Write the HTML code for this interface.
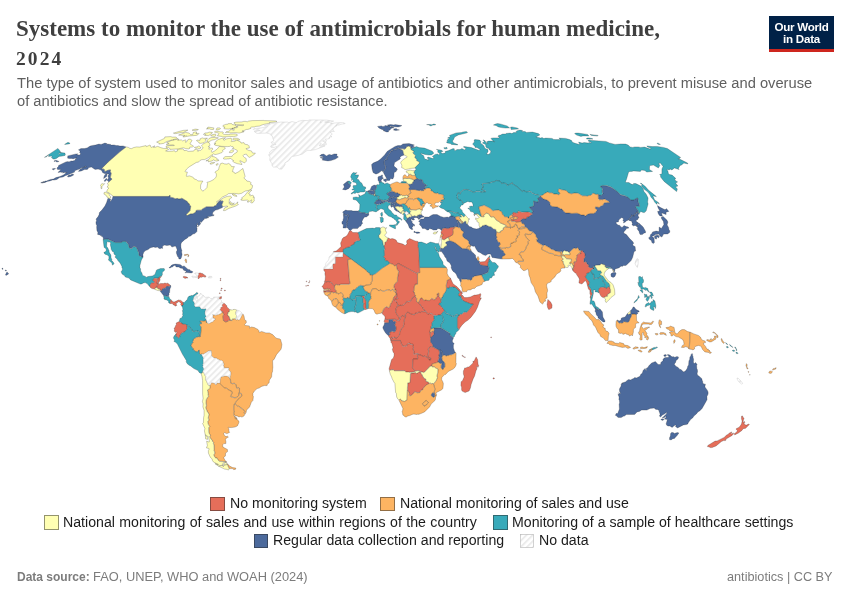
<!DOCTYPE html>
<html lang="en"><head><meta charset="utf-8"><title>Systems to monitor the use of antimicrobials for human medicine, 2024</title>
<style>
html,body{margin:0;padding:0;background:#fff;}
body{width:850px;height:600px;position:relative;overflow:hidden;font-family:"Liberation Sans",sans-serif;}
.t{position:absolute;white-space:nowrap;margin:0;will-change:transform;}
.title{font-family:"Liberation Serif",serif;font-weight:bold;color:#3f3f3f;}
.sub{color:#5f5f5f;}
.leg{color:#1c1c1c;font-size:14px;line-height:18px;}
.sw{position:absolute;width:12.6px;height:12.6px;border:0.6px solid rgba(40,40,40,.5);}
.foot{color:#7c7c7c;}
#logo{position:absolute;left:769px;top:16px;width:65px;height:33px;background:#002147;border-bottom:3px solid #ce261e;color:#fff;font-weight:bold;text-align:center;}
#logo span{position:absolute;left:0;width:65px;white-space:nowrap;will-change:transform;}
svg{position:absolute;left:0;top:0;}
</style></head><body>

<div class="t title" style="left:16.30px;top:15.74px;font-size:23.00px;line-height:26.00px;">Systems to monitor the use of antimicrobials for human medicine,</div>
<div class="t title" style="left:16.40px;top:45.72px;font-size:19.50px;line-height:26.00px;letter-spacing:2.1px;">2024</div>
<div class="t sub" style="left:16.60px;top:73.91px;font-size:14.70px;line-height:18.00px;">The type of system used to monitor sales and usage of antibiotics and other antimicrobials, to prevent misuse and overuse</div>
<div class="t sub" style="left:16.60px;top:92.01px;font-size:14.70px;line-height:18.00px;">of antibiotics and slow the spread of antibiotic resistance.</div>
<div id="logo"><span style="top:5.2px;font-size:11.6px;line-height:12px;letter-spacing:-0.25px">Our World</span><span style="top:17.3px;font-size:11.6px;line-height:12px;letter-spacing:-0.25px">in Data</span></div>
<svg width="850" height="600" viewBox="0 0 850 600"><defs><pattern id="hatch" width="4.4" height="4.4" patternUnits="userSpaceOnUse" patternTransform="rotate(45)"><rect width="4.4" height="4.4" fill="#fff"/><rect width="1.9" height="4.4" fill="#ebebeb"/></pattern></defs>
<g stroke="#1a1a1a" stroke-opacity=".55" stroke-width="0.42" stroke-linejoin="round">
<path fill="#e56e5a" d="M407.6,312.1L405.6,314.1L405.6,316.6L404.6,318.9L404.4,321.1L403.9,322.4L404.1,324.4L403.6,325.1L403.6,326.6L401.6,328.6L399.9,332.1L399.6,335.1L397.6,336.9L396.4,338.6L395.4,338.1L395.1,337.4L394.1,337.4L393.1,338.4L392.9,338.1L392.1,338.4L391.6,339.1L391.6,340.1L390.6,340.6L391.1,341.1L393.1,340.4L400.4,340.4L401.1,342.9L402.9,346.1L404.4,346.1L405.1,345.6L406.4,346.1L407.1,344.1L409.1,343.1L410.1,343.1L410.4,343.4L410.1,344.1L412.9,344.1L413.1,346.4L413.6,347.1L413.1,349.4L414.1,351.4L413.9,354.1L416.1,353.6L418.1,353.6L418.9,354.1L418.9,354.6L421.1,354.9L421.9,355.9L423.9,356.4L425.1,355.6L426.1,357.1L427.4,357.4L428.6,358.6L429.1,359.9L430.6,359.9L430.6,357.9L430.1,358.1L427.9,356.6L427.6,355.9L428.6,351.1L428.1,349.1L428.9,347.6L430.6,346.9L432.1,346.6L433.4,346.9L432.1,343.9L430.9,342.4L430.4,341.1L430.6,338.4L430.1,333.6L429.6,332.9L430.4,329.4L430.9,328.9L430.9,326.9L431.6,325.9L431.6,323.4L432.6,321.6L434.4,319.6L433.6,319.1L433.9,315.9L431.4,313.4L430.4,313.9L429.6,313.6L428.4,314.1L427.4,313.9L425.9,311.6L425.4,311.9L421.6,311.6L420.4,312.6L419.1,312.1L416.9,313.4L415.4,313.1L414.4,314.9L411.1,314.1Z"/>
<path fill="#e56e5a" d="M391.4,341.1L390.6,341.9L391.9,343.4L393.1,347.9L392.4,348.9L392.4,349.6L393.1,352.1L394.1,353.4L394.1,355.6L393.4,357.9L391.6,359.6L389.1,368.6L389.4,370.6L391.6,369.6L393.4,369.6L394.6,370.9L395.1,370.6L404.4,370.6L405.9,371.9L408.6,371.9L408.9,372.1L411.9,372.1L414.9,371.4L415.1,371.1L412.4,367.6L412.9,359.1L413.1,358.9L417.6,358.9L417.4,358.1L417.9,357.1L417.4,356.4L417.6,355.4L417.4,353.9L413.9,354.4L413.6,354.1L413.9,351.4L412.9,349.4L412.9,348.4L413.4,347.4L412.9,346.4L412.9,344.4L410.1,344.4L409.9,344.1L410.1,343.4L409.1,343.4L408.1,344.1L407.4,344.1L406.9,345.9L406.4,346.4L405.4,345.9L404.4,346.4L402.9,346.4L400.9,342.9L400.4,340.6L393.1,340.6ZM391.9,337.1L390.1,338.6L390.6,340.4L391.4,340.1L391.4,339.1L392.4,338.1Z"/>
<path fill="#e56e5a" d="M439.1,350.6L437.1,348.9L435.6,348.6L433.1,346.9L429.1,347.6L428.4,349.1L428.9,351.1L427.9,356.4L430.1,357.9L430.4,357.6L430.9,357.9L430.6,360.1L429.1,360.1L428.4,358.6L427.4,357.6L426.1,357.4L425.1,355.9L423.9,356.6L421.9,356.1L421.1,355.1L418.9,354.9L418.6,354.1L417.6,353.9L417.9,354.6L417.6,356.4L418.1,357.1L417.6,358.1L417.9,358.9L417.6,359.1L413.1,359.1L412.6,367.6L415.4,371.1L417.4,370.6L419.1,370.6L420.4,371.6L422.9,371.9L423.6,372.4L424.4,372.1L428.4,368.1L429.1,366.9L430.4,366.1L431.9,365.9L431.6,365.1L431.9,363.9L438.4,362.1L437.6,361.1L439.1,358.1L438.6,356.4L439.6,353.1Z"/>
<path fill="#4c6a9c" d="M433.6,328.1L434.4,329.6L434.1,331.4L433.6,331.9L434.1,334.1L431.6,337.1L430.6,337.4L430.9,338.4L430.6,341.1L431.1,342.4L432.4,343.9L433.6,347.1L438.1,349.4L440.6,349.9L442.1,351.9L442.6,355.4L444.4,355.1L446.9,355.9L447.4,355.4L449.1,355.4L449.9,354.6L451.6,354.6L454.9,352.9L455.4,352.1L454.6,351.4L453.4,347.9L453.4,345.1L454.1,343.6L453.6,342.9L452.4,342.1L452.4,340.6L453.4,337.9L449.9,334.9L449.9,333.4L441.9,328.6L441.1,327.9Z"/>
<path fill="#fdb462" d="M455.6,352.4L453.9,353.9L451.6,354.9L449.9,354.9L449.1,355.6L447.4,355.6L446.9,356.1L444.4,355.4L442.6,355.6L441.9,357.4L442.4,360.6L442.9,360.6L444.1,362.1L444.9,363.6L444.9,367.1L443.6,368.1L442.9,369.6L441.1,367.9L441.1,365.6L441.6,364.9L441.6,363.6L441.1,363.4L440.4,363.6L438.6,362.1L431.9,364.1L432.4,366.9L434.1,366.6L435.6,367.9L438.1,369.1L437.9,372.9L437.1,375.4L437.1,376.4L437.6,377.4L436.1,380.9L433.6,383.9L435.1,389.1L434.4,391.9L434.9,395.4L436.4,395.4L436.6,394.6L436.1,393.6L436.4,392.6L441.4,389.9L442.9,388.6L443.4,383.4L442.9,383.1L443.1,382.4L441.6,379.4L441.9,377.4L444.6,374.6L445.6,374.4L448.4,371.4L453.1,369.1L454.9,367.4L455.9,365.4L456.4,363.6L455.9,362.9L456.1,353.4Z"/>
<path fill="#4c6a9c" d="M438.4,349.6L439.4,350.6L439.9,353.1L438.9,355.6L439.4,358.1L437.9,361.4L440.4,363.4L441.1,363.1L441.9,363.6L441.9,364.9L441.4,365.6L441.4,367.9L442.9,369.4L443.4,368.1L444.6,367.1L444.6,363.6L443.9,362.1L442.9,360.9L442.1,360.6L441.6,357.4L442.4,355.9L441.9,351.9L440.6,350.1Z"/>
<path fill="#ffffb3" d="M431.4,366.1L429.1,367.1L428.6,368.1L424.4,372.4L423.6,372.6L421.6,371.9L420.6,371.9L421.1,373.6L421.9,374.4L423.1,376.9L424.6,378.6L425.9,379.1L425.9,380.4L426.6,381.6L428.1,381.9L429.4,383.1L430.6,383.1L431.4,383.6L431.9,383.4L433.6,383.6L435.9,380.9L437.4,377.4L436.9,376.4L436.9,375.4L437.6,372.9L437.9,369.1L435.6,368.1L434.1,366.9L432.4,367.1L432.1,366.1Z"/>
<path fill="#e56e5a" d="M420.1,371.6L416.4,373.6L415.6,372.6L410.6,373.6L410.1,382.6L407.9,382.9L407.9,386.4L407.6,386.6L407.6,390.4L408.4,390.9L409.6,393.4L409.4,394.1L409.6,395.6L411.1,395.4L413.4,393.4L414.1,392.1L415.1,391.6L417.1,392.6L419.9,392.4L420.6,390.6L421.1,390.1L422.4,389.9L423.6,387.4L426.4,384.9L429.1,383.4L428.1,382.1L426.6,381.9L425.6,380.4L425.6,379.1L424.6,378.9L422.9,376.9L421.6,374.4L420.9,373.6Z"/>
<path fill="#ffffb3" d="M390.9,370.1L389.4,371.1L390.4,374.6L391.6,376.9L392.1,378.6L393.9,382.1L394.9,383.4L395.6,392.4L396.4,393.6L396.6,396.9L397.4,398.4L398.9,400.1L400.1,398.9L401.4,399.9L401.6,400.6L404.4,401.4L406.9,400.1L407.6,382.9L409.9,382.6L410.4,373.6L411.4,373.1L412.6,373.1L415.6,372.4L416.4,373.4L419.9,371.6L419.1,370.9L417.4,370.9L411.9,372.4L408.9,372.4L408.6,372.1L405.9,372.1L404.4,370.9L395.1,370.9L394.6,371.1L393.4,369.9Z"/>
<path fill="#fdb462" d="M433.4,383.9L432.6,383.6L431.4,383.9L430.6,383.4L429.4,383.4L426.4,385.1L423.9,387.4L422.6,389.9L421.1,390.4L419.9,392.6L417.1,392.9L415.1,391.9L414.1,392.4L413.6,393.4L411.1,395.6L409.6,395.9L409.1,395.4L409.4,393.4L408.1,390.9L407.4,390.4L407.1,400.1L404.4,401.6L401.6,400.9L401.1,399.9L400.1,399.1L399.1,400.4L402.9,408.6L402.6,410.6L402.1,411.1L402.9,415.1L403.1,414.9L403.9,415.9L405.4,416.9L406.4,416.9L407.9,415.9L409.9,415.6L412.1,414.4L413.9,414.1L417.1,414.6L417.9,414.1L419.1,414.4L419.4,413.9L420.9,413.6L424.6,411.9L429.6,406.9L431.1,404.1L434.9,400.6L435.4,399.6L435.6,397.4L436.4,395.6L434.9,395.6L434.1,397.1L432.9,397.4L431.4,395.6L431.4,394.6L432.6,392.6L434.4,393.1L434.1,391.9L434.9,389.1ZM426.4,400.4L428.4,402.4L426.9,404.6L425.6,405.1L425.1,405.9L424.1,406.1L422.4,403.9L424.6,401.4Z"/>
<path fill="#fdb462" d="M426.4,400.6L424.6,401.6L422.6,403.9L424.1,405.9L425.1,405.6L425.6,404.9L426.9,404.4L428.1,402.4Z"/>
<path fill="#4c6a9c" d="M432.6,392.9L431.6,394.6L431.6,395.6L432.9,397.1L434.1,396.9L434.6,395.9L434.6,394.1L434.4,393.4Z"/>
<path fill="#e56e5a" d="M405.4,316.4L402.1,315.6L400.9,317.1L399.4,320.9L397.4,320.4L396.1,319.6L393.1,319.4L392.9,320.6L393.4,321.6L395.1,321.4L395.9,322.1L394.9,325.1L395.9,326.6L396.1,329.4L394.9,331.9L392.9,331.9L391.9,330.9L391.4,331.9L389.9,332.1L389.4,332.6L390.1,334.4L388.4,335.6L388.4,336.1L390.1,338.4L391.9,336.9L393.1,338.1L394.1,337.1L395.1,337.1L395.4,337.9L396.4,338.4L397.4,336.9L399.4,335.1L399.6,332.1L401.4,328.6L403.4,326.6L403.4,325.1L403.9,324.4L403.6,322.4L404.1,321.1L404.4,318.9L405.1,317.6Z"/>
<path fill="#4c6a9c" d="M392.9,319.4L391.9,319.6L389.4,319.4L388.9,319.6L388.9,322.4L388.6,322.6L384.6,322.9L384.1,324.9L382.9,327.1L382.9,328.1L384.1,330.6L385.6,332.9L388.1,335.6L389.9,334.4L389.1,332.9L389.9,331.9L391.4,331.6L391.9,330.6L392.9,331.6L394.9,331.6L395.6,330.4L395.9,327.9L395.6,326.6L394.6,325.1L395.6,322.1L395.1,321.6L393.4,321.9L392.6,320.6Z"/>
<path fill="#e56e5a" d="M384.6,319.6L384.1,321.6L384.6,322.6L388.6,322.4L388.6,319.6L386.6,319.4Z"/>
<path fill="#e56e5a" d="M395.9,291.6L395.4,291.9L395.4,292.4L396.4,293.4L396.1,294.9L393.9,297.1L393.1,299.9L392.4,300.9L392.1,302.4L390.9,303.4L389.9,306.9L388.4,307.9L386.9,306.9L385.9,306.9L383.9,308.9L382.1,313.4L382.9,314.6L383.9,315.1L385.1,316.9L384.9,319.1L386.9,319.4L394.4,319.1L396.1,319.4L397.4,320.1L399.4,320.6L399.6,319.4L399.1,318.6L399.1,317.4L397.6,316.1L396.9,314.1L395.9,312.9L395.6,311.4L395.9,308.9L397.9,305.1L396.9,302.1L396.1,301.9L394.4,300.1L395.1,298.6L395.9,298.9L397.6,298.6L396.6,296.6L396.9,294.1Z"/>
<path fill="#e56e5a" d="M415.1,296.1L412.6,297.6L410.9,300.9L408.9,301.9L406.6,301.6L406.4,302.6L403.6,304.9L401.4,305.6L400.1,305.1L399.9,305.6L397.6,306.1L396.1,308.9L395.9,311.4L396.1,312.9L397.1,314.1L397.9,316.1L399.4,317.4L399.6,319.1L400.6,317.1L402.1,315.4L405.4,316.1L405.4,314.1L407.6,311.9L411.1,313.9L414.4,314.6L415.4,312.9L416.9,313.1L419.1,311.9L420.4,312.4L421.6,311.4L422.9,311.6L425.4,311.6L425.6,311.4L425.4,310.6L423.6,309.6L422.4,307.1L420.4,305.4L420.4,304.6L416.6,301.6L416.4,301.1L416.6,298.6L415.4,297.1Z"/>
<path fill="#e56e5a" d="M438.6,293.1L437.9,293.9L437.1,293.9L437.6,296.1L435.1,299.6L433.9,299.9L431.9,298.4L429.6,300.6L427.1,300.6L426.6,300.1L425.1,300.1L424.1,300.6L423.1,299.9L422.1,298.1L421.4,298.1L420.4,298.6L418.9,302.4L418.1,302.6L420.6,304.6L420.6,305.4L422.6,307.1L423.9,309.6L425.6,310.6L427.4,313.6L428.4,313.9L429.1,313.4L430.4,313.6L431.4,313.1L433.9,315.6L435.1,315.1L436.9,315.6L438.1,314.9L440.1,314.9L440.9,314.4L444.1,310.6L442.9,308.1L441.4,306.9L440.6,305.4L438.6,304.6L439.6,302.9L440.9,302.6L440.9,300.6L440.4,300.4L440.6,298.9L438.9,296.6L438.6,295.6L438.9,293.4Z"/>
<path fill="#38aaba" d="M441.4,314.4L440.1,315.1L438.1,315.1L436.9,315.9L435.4,315.4L434.1,315.9L433.9,319.1L434.4,319.1L434.6,319.6L432.9,321.6L431.9,323.4L431.9,325.9L431.1,326.9L431.1,328.6L431.9,328.9L433.1,327.9L433.4,328.1L433.6,327.9L441.1,327.6L440.9,324.9L442.6,322.6L443.6,320.4L442.4,315.9Z"/>
<path fill="#fdb462" d="M433.1,328.1L431.9,329.1L431.1,328.9L430.6,329.4L429.9,332.4L431.1,332.6L432.1,331.1L433.6,331.6L433.9,331.4L434.1,329.6Z"/>
<path fill="#e56e5a" d="M433.4,331.6L432.1,331.4L431.1,332.9L429.9,332.6L430.4,333.6L430.6,337.1L431.6,336.9L433.9,334.1Z"/>
<path fill="#38aaba" d="M444.1,310.9L441.4,314.1L442.6,315.9L443.9,319.9L442.9,322.6L441.1,324.9L441.4,327.9L449.9,333.1L450.1,334.9L453.4,337.6L454.4,336.6L454.6,335.4L455.9,333.4L455.9,332.6L458.9,329.9L457.4,327.4L457.4,317.9L459.1,315.1L458.1,315.1L457.1,314.4L455.1,315.4L454.4,316.4L452.9,316.4L452.4,315.9L451.6,316.1L448.1,313.9L446.4,313.9L445.4,312.6L445.4,311.4Z"/>
<path fill="#e56e5a" d="M480.4,293.6L478.9,294.4L475.9,295.1L474.4,295.1L470.4,296.9L467.1,297.6L464.4,297.6L462.6,295.4L462.1,295.4L461.1,297.1L461.4,297.9L463.6,300.9L471.1,303.9L473.4,304.1L466.9,312.4L463.9,312.4L461.9,314.4L460.4,314.4L459.4,315.1L457.6,317.9L457.6,327.4L459.1,329.6L459.9,327.9L462.1,324.9L465.1,322.1L468.1,320.1L470.9,317.4L475.4,311.4L477.6,306.9L479.4,301.6L481.4,297.9L480.6,298.1L480.1,297.9L480.9,294.6Z"/>
<path fill="#38aaba" d="M446.6,287.6L446.4,289.9L445.9,291.1L443.9,293.9L443.1,295.4L443.1,296.6L442.1,297.1L441.6,297.9L441.1,302.6L440.6,303.1L439.6,303.1L438.9,304.6L440.4,304.9L441.6,306.9L443.1,308.1L444.1,310.4L445.6,311.4L445.9,313.1L446.4,313.6L448.1,313.6L451.6,315.9L452.4,315.6L452.9,316.1L454.4,316.1L455.1,315.1L457.1,314.1L458.1,314.9L459.6,314.9L460.4,314.1L461.9,314.1L463.9,312.1L466.9,312.1L473.1,304.1L471.1,304.1L463.6,301.1L462.4,299.9L460.9,297.4L461.1,296.4L458.9,296.1L458.4,294.6L459.9,292.1L458.4,290.1L455.6,287.6L454.6,287.1L453.1,287.1L452.4,286.6L451.1,287.4L449.6,286.4L449.1,288.1Z"/>
<path fill="#e56e5a" d="M462.1,292.1L461.1,292.6L459.9,292.4L458.6,294.6L459.1,296.1L460.9,295.9L461.4,296.4L462.1,295.1L461.1,294.4L462.4,293.6Z"/>
<path fill="#e56e5a" d="M447.6,280.1L446.4,285.6L446.6,287.4L449.1,287.9L449.6,286.1L451.1,287.1L452.4,286.4L453.1,286.9L454.6,286.9L456.4,287.9L460.1,292.1L461.1,292.4L461.9,291.9L460.4,290.9L460.1,290.1L456.9,286.6L454.6,285.1L452.9,283.4L450.4,278.1L449.4,279.6Z"/>
<path fill="#fdb462" d="M419.6,267.6L419.9,272.6L417.4,272.9L417.6,273.4L417.6,284.1L417.4,284.4L415.4,284.1L414.1,287.1L414.6,288.1L413.9,288.9L414.1,290.1L413.4,291.9L413.6,291.6L414.1,291.9L414.6,292.9L414.6,294.4L415.6,295.4L415.4,296.1L415.6,297.1L416.9,298.6L416.6,300.4L416.9,301.6L417.6,302.4L418.6,302.4L420.1,298.6L421.4,297.9L422.1,297.9L423.4,299.9L424.1,300.4L425.1,299.9L426.6,299.9L427.1,300.4L429.6,300.4L431.9,298.1L433.9,299.6L435.1,299.4L435.9,297.9L437.4,296.1L436.9,293.9L437.9,293.6L438.4,292.9L439.1,293.4L438.9,294.1L439.1,296.6L440.9,298.9L440.6,300.4L441.1,300.4L441.4,297.9L442.1,296.9L442.9,296.6L442.9,295.4L443.6,293.9L445.1,292.1L446.1,289.9L446.4,288.4L446.1,285.6L447.1,280.6L447.6,279.9L449.4,279.4L450.4,277.9L448.6,276.6L447.1,273.4L447.4,269.6L446.4,267.6Z"/>
<path fill="#38aaba" d="M417.9,243.4L418.4,244.4L417.9,246.4L418.6,247.9L419.6,267.4L446.4,267.4L443.1,264.4L442.9,262.1L439.4,256.6L438.6,253.6L436.4,250.9L436.6,250.4L438.9,252.4L439.6,250.9L439.9,248.6L440.6,247.6L438.6,243.1L437.9,243.6L435.6,243.6L434.4,242.9L430.4,242.1L426.6,243.9L421.6,242.1L418.6,242.1ZM434.9,246.6L435.4,246.9L436.6,250.1L436.4,250.6L434.6,247.1Z"/>
<path fill="#e56e5a" d="M388.1,237.9L386.6,241.4L384.9,242.6L385.1,244.1L384.9,244.9L383.9,245.6L384.9,249.4L384.4,250.6L384.6,255.4L383.6,256.6L385.1,258.4L385.1,259.6L385.9,260.9L386.9,260.4L389.1,262.1L389.6,263.1L393.4,264.4L394.6,265.9L398.4,263.4L417.4,273.6L417.1,273.1L417.4,272.6L419.6,272.6L418.4,247.9L417.6,246.4L418.1,244.9L417.6,243.4L418.4,242.1L417.9,241.4L415.1,240.9L409.6,238.6L406.9,240.4L406.6,242.1L407.1,243.6L405.9,245.1L405.1,245.4L402.9,244.1L397.4,242.6L396.1,240.1L394.1,239.1L392.1,238.6L390.4,238.9Z"/>
<path fill="#e56e5a" d="M398.4,263.6L396.4,264.9L397.1,269.1L398.9,271.6L397.6,277.6L397.6,281.4L394.9,283.9L393.9,287.1L394.9,288.4L394.9,289.9L396.4,290.1L396.1,291.9L397.1,294.1L396.9,296.6L397.9,298.4L397.6,298.9L396.6,299.1L395.1,298.9L394.6,300.1L396.1,301.6L397.1,302.1L397.4,303.4L398.1,304.6L397.9,305.6L399.9,305.4L400.1,304.9L401.4,305.4L403.6,304.6L406.1,302.6L406.1,301.9L406.6,301.4L408.9,301.6L410.9,300.6L412.4,297.6L413.9,296.4L415.4,295.9L415.4,295.4L414.4,294.4L414.4,292.9L413.9,291.9L413.4,292.1L413.1,291.9L413.9,290.1L413.6,288.9L414.4,288.1L413.9,287.1L415.4,283.9L417.4,284.1L417.4,273.9Z"/>
<path fill="#fdb462" d="M396.1,265.1L394.6,266.1L393.4,264.6L389.9,263.4L382.1,268.4L376.1,273.4L374.4,274.4L372.4,275.1L372.4,280.9L371.1,282.6L371.1,284.1L369.4,284.9L365.6,285.1L364.9,286.1L363.6,286.1L363.4,286.6L363.6,288.4L364.6,289.6L365.1,291.1L367.4,291.6L367.6,293.4L368.1,292.9L369.1,292.9L370.6,294.1L370.6,292.1L371.4,291.1L371.6,289.6L372.6,288.9L375.1,288.4L377.4,289.4L378.1,290.4L379.6,290.4L380.6,289.9L382.9,291.1L384.4,291.1L385.9,290.1L387.1,290.1L387.9,289.6L389.4,289.9L390.9,290.6L392.9,289.1L395.1,292.1L395.9,291.4L396.1,290.1L394.6,289.9L394.6,288.4L393.6,287.1L394.6,283.9L397.4,281.4L397.4,277.6L398.6,271.9L397.6,269.9L396.9,269.1Z"/>
<path fill="#38aaba" d="M379.4,227.6L375.9,227.6L374.1,228.6L373.1,228.1L366.4,228.6L358.1,232.4L357.9,232.9L358.6,234.1L359.4,238.1L360.1,239.4L359.9,240.4L358.1,240.9L356.6,240.9L355.6,241.9L354.6,242.1L354.1,244.1L351.6,245.1L350.6,246.4L349.1,247.1L346.6,247.6L343.1,249.4L343.1,253.1L366.4,270.4L367.6,272.1L369.9,273.4L369.9,274.9L371.1,274.6L372.4,274.9L375.4,273.6L382.1,268.1L389.6,263.4L388.9,262.1L386.9,260.6L386.1,261.1L385.6,260.9L384.9,259.6L384.9,258.4L383.4,256.6L384.4,255.4L384.1,250.6L384.6,248.6L383.9,245.9L383.1,244.6L382.4,240.6L381.4,240.1L380.9,239.1L378.9,237.4L378.6,235.4L380.1,233.9L380.6,232.1L380.1,229.9L380.4,227.9Z"/>
<path fill="#ffffb3" d="M382.9,226.9L380.6,227.9L380.4,229.9L380.9,232.1L380.4,233.9L378.9,235.4L379.1,237.4L381.1,239.1L381.4,239.9L382.6,240.6L383.4,244.6L383.9,245.4L384.6,244.9L384.9,244.1L384.6,242.6L386.4,241.4L387.9,237.9L385.9,236.9L384.6,235.1L386.1,233.6L386.6,232.6L385.6,230.6L385.6,229.4L386.6,227.6L385.1,228.4L384.6,227.4Z"/>
<path fill="#e56e5a" d="M357.6,232.6L356.6,232.4L352.9,232.6L350.9,230.6L349.4,231.1L347.4,235.1L345.6,236.6L343.4,237.6L342.1,239.1L341.6,241.1L340.6,242.9L341.1,246.4L338.6,249.1L336.1,251.1L334.1,251.4L333.1,252.1L342.9,252.1L342.9,249.4L346.6,247.4L349.1,246.9L350.6,246.1L351.6,244.9L354.1,243.9L354.4,242.1L355.6,241.6L356.6,240.6L359.6,240.4L359.9,239.4L359.1,238.1L358.4,234.1Z"/>
<path fill="#e56e5a" d="M351.1,259.1L342.9,253.1L342.9,256.9L342.6,257.1L335.4,256.9L335.4,263.4L333.1,263.9L332.6,265.1L332.9,268.9L332.6,269.1L324.1,269.1L323.6,269.9L325.1,272.1L324.9,274.1L325.4,276.4L325.1,280.1L324.4,281.4L324.6,282.4L325.4,281.6L326.9,281.9L327.6,281.4L328.9,281.4L331.6,282.6L334.4,286.4L335.1,285.9L335.1,285.1L335.6,284.4L336.6,284.4L338.1,285.1L338.9,284.6L339.9,284.9L340.4,284.1L349.4,284.1L349.9,282.6L349.4,280.6L347.6,259.6Z"/>
<path fill="#fdb462" d="M351.4,259.4L347.9,259.6L349.6,280.6L350.1,282.6L349.9,283.9L349.4,284.4L340.4,284.4L339.9,285.1L338.9,284.9L338.1,285.4L336.6,284.6L335.6,284.6L335.4,285.9L334.6,286.6L334.9,289.4L336.1,290.6L336.1,293.1L337.4,292.9L337.9,293.6L338.9,293.9L339.6,293.1L341.4,292.6L343.4,295.1L342.6,296.6L343.1,296.4L343.6,296.9L343.4,297.6L344.9,298.4L346.4,298.4L346.9,297.6L347.9,297.4L348.4,297.6L348.6,298.4L349.6,297.9L349.6,296.1L350.1,295.4L350.1,294.4L351.9,292.1L352.1,290.9L353.1,289.6L353.9,289.9L355.1,289.6L355.4,288.9L357.1,287.6L357.9,286.6L360.9,285.1L361.9,285.6L364.9,285.9L365.6,284.9L370.4,284.4L370.9,284.1L370.9,282.6L372.1,280.9L372.1,274.9L369.9,275.1L369.4,273.1L367.6,272.4L366.4,270.6Z"/>
<path fill="#e56e5a" d="M321.9,286.4L322.9,287.4L323.6,289.1L326.4,289.1L326.9,288.4L327.6,288.4L328.6,289.1L329.4,289.1L330.1,288.6L330.6,289.4L329.4,290.6L327.6,289.9L325.9,290.9L323.6,290.9L323.9,292.4L324.9,291.9L325.9,292.1L326.6,291.6L332.1,291.9L333.4,292.6L333.9,292.6L334.1,292.1L334.9,292.4L335.9,292.1L335.9,290.6L334.9,289.9L334.4,288.6L334.4,286.6L332.6,284.6L331.6,282.9L328.9,281.6L327.6,281.6L326.9,282.1L325.4,281.9L324.6,282.6L323.1,285.6Z"/>
<path fill="#fdb462" d="M330.4,289.4L330.1,288.9L329.4,289.4L328.6,289.4L327.6,288.6L326.9,288.6L326.4,289.4L323.9,289.4L323.6,290.6L325.9,290.6L327.6,289.6L329.4,290.4Z"/>
<path fill="#fdb462" d="M323.9,292.6L325.1,294.9L327.4,295.9L328.4,294.6L330.4,294.1L330.1,293.1L330.6,292.1L326.6,291.9L325.9,292.4L324.9,292.1Z"/>
<path fill="#fdb462" d="M327.4,296.1L328.4,297.1L328.6,298.4L329.6,298.9L330.9,300.4L331.4,301.6L332.6,300.6L333.6,299.1L334.4,299.1L334.9,298.6L336.6,298.6L338.1,300.6L338.4,302.9L339.6,302.4L340.4,302.9L341.1,304.4L340.9,304.9L341.1,305.6L342.1,304.6L342.9,304.6L343.1,304.1L342.9,303.1L344.1,302.4L342.9,299.6L343.1,298.6L343.6,298.4L343.1,297.6L343.4,296.9L342.4,296.6L343.1,295.1L341.4,292.9L340.1,293.1L338.6,294.1L337.9,293.9L337.4,293.1L336.1,293.4L335.9,292.4L335.6,292.6L334.1,292.4L333.9,292.9L333.4,292.9L332.1,292.1L330.9,292.1L330.4,293.1L330.6,294.1L329.1,294.9L328.4,294.9Z"/>
<path fill="#fdb462" d="M334.9,298.9L334.4,299.4L333.6,299.4L331.6,302.1L332.1,304.1L332.9,305.4L333.9,306.4L335.9,307.1L336.4,305.6L338.4,303.1L337.4,299.6L336.6,298.9Z"/>
<path fill="#fdb462" d="M339.6,302.6L338.6,303.1L337.1,304.9L335.9,307.4L337.6,309.4L341.6,312.6L343.6,313.6L344.4,313.6L344.6,310.1L342.1,308.1L342.6,307.1L342.4,306.4L342.6,304.9L342.1,304.9L341.1,305.9L340.6,305.4L340.9,304.4L340.1,302.9Z"/>
<path fill="#38aaba" d="M355.6,299.9L353.9,299.4L352.4,300.1L351.4,299.6L349.9,298.1L348.6,298.6L348.1,297.6L346.9,297.9L346.4,298.6L344.9,298.6L344.1,298.1L343.4,298.6L343.1,299.6L344.4,302.4L343.1,303.1L343.4,304.1L342.6,305.4L342.9,307.1L342.4,308.1L344.9,310.1L344.6,313.9L348.6,312.1L351.1,311.6L353.4,311.6L354.4,312.1L355.6,312.1L355.6,310.9L354.6,309.1L355.1,306.4L356.1,303.9Z"/>
<path fill="#38aaba" d="M363.4,285.9L361.9,285.9L360.9,285.4L357.9,286.9L357.1,287.9L355.6,288.9L355.1,289.9L354.6,290.1L353.1,289.9L352.4,290.9L352.1,292.1L350.4,294.4L350.4,295.4L349.9,296.1L349.9,297.9L351.4,299.4L352.4,299.9L353.9,299.1L355.6,299.6L355.4,298.1L355.6,296.1L357.9,295.9L364.6,296.1L365.9,294.6L366.9,294.4L367.4,293.6L367.4,291.9L365.6,291.6L364.9,291.1L363.1,287.6Z"/>
<path fill="#38aaba" d="M362.1,296.1L355.6,296.4L356.4,303.9L355.4,306.4L354.9,309.1L355.9,310.9L355.9,312.1L357.6,312.9L358.9,312.6L364.6,309.6L363.4,307.4L363.4,305.1L363.9,303.4L363.1,302.4L363.1,298.4L362.1,297.1Z"/>
<path fill="#e56e5a" d="M362.4,296.1L362.4,297.1L363.4,298.4L363.4,302.4L364.1,303.4L363.6,305.1L363.6,307.4L364.9,309.6L366.4,309.4L366.6,308.9L365.9,307.4L366.1,301.1L365.6,300.6L365.4,299.4L363.9,297.6L364.4,296.4Z"/>
<path fill="#38aaba" d="M369.1,293.1L368.1,293.1L366.9,294.6L365.9,294.9L364.1,297.4L365.6,299.4L365.9,300.6L366.4,301.1L366.1,307.4L366.9,309.1L368.4,308.6L368.6,306.4L368.4,302.6L368.9,301.1L370.9,298.6L370.6,298.4L370.9,296.6L370.4,295.6L370.6,294.4Z"/>
<path fill="#fdb462" d="M392.9,289.4L390.9,290.9L389.4,290.1L387.9,289.9L387.1,290.4L385.9,290.4L384.4,291.4L382.9,291.4L380.6,290.1L379.6,290.6L378.1,290.6L377.4,289.6L375.1,288.6L372.1,289.4L371.6,291.1L370.9,292.1L370.6,295.6L371.1,296.6L370.9,297.6L371.1,298.6L369.1,301.1L368.6,302.6L368.9,303.9L368.6,308.6L372.4,308.6L374.1,310.4L375.1,312.9L376.1,314.1L377.9,314.1L378.9,313.4L380.1,313.6L381.9,312.6L382.1,313.1L382.1,312.4L383.6,308.9L385.9,306.6L386.9,306.6L388.1,307.6L389.6,306.9L390.6,303.4L391.9,302.4L392.1,300.9L392.9,299.9L393.6,297.1L395.9,294.9L396.1,293.4L394.6,292.1Z"/>
<path fill="#e56e5a" d="M476.1,356.9L473.9,361.6L472.9,361.1L473.1,362.4L472.6,363.4L468.9,366.9L467.9,366.9L465.9,367.9L464.6,367.9L464.4,369.1L463.4,370.9L463.4,374.1L464.1,376.1L464.1,377.1L462.4,380.9L461.4,381.4L461.1,381.9L460.9,385.4L461.6,387.1L461.6,389.9L462.1,391.1L465.1,392.6L469.1,390.9L470.4,388.1L471.1,384.6L473.1,378.9L474.6,375.9L475.9,370.9L476.9,368.9L476.6,366.6L477.1,366.1L477.9,367.4L478.6,365.9L478.6,365.1L478.1,364.4L477.6,359.6Z"/>
<path fill="#fdb462" d="M235.9,418.9L237.1,419.4L237.1,418.9ZM221.6,311.9L221.9,312.4L220.9,313.6L218.4,314.6L216.6,314.9L215.9,315.6L214.1,314.9L212.4,314.6L213.1,315.1L212.9,316.1L213.1,318.1L214.9,318.6L215.4,319.4L213.9,320.1L213.1,321.6L210.4,322.6L209.9,323.4L208.1,323.6L206.9,322.1L206.4,322.6L205.9,320.6L205.4,320.1L204.6,321.1L200.4,320.9L200.4,322.1L201.6,322.6L201.4,323.9L200.6,323.6L199.9,324.1L199.9,325.6L200.9,326.6L201.1,327.6L201.1,330.4L200.4,336.6L200.1,336.9L197.9,336.6L197.6,337.1L196.4,337.4L193.4,339.1L193.4,340.4L192.6,341.4L193.1,342.6L191.6,343.6L191.6,344.6L191.1,345.4L192.1,347.4L193.6,348.9L193.1,349.9L194.4,350.1L195.4,351.4L197.4,351.6L199.1,349.9L199.6,353.9L200.4,354.4L201.4,353.9L203.9,354.1L204.9,353.1L206.6,352.4L208.1,351.1L211.1,350.6L211.6,353.6L211.4,355.6L213.9,357.9L216.4,358.1L217.9,359.4L218.6,359.4L220.1,360.4L221.6,360.4L223.1,361.6L223.1,362.4L223.9,363.9L223.9,364.9L223.4,365.1L224.4,367.9L228.6,367.9L228.9,368.1L228.6,370.1L230.4,371.4L230.9,372.9L230.6,375.4L230.1,376.1L230.4,377.9L229.9,378.4L230.6,379.9L230.9,383.1L232.6,383.6L234.1,383.1L235.1,383.6L236.1,384.9L236.9,388.1L238.6,387.6L239.6,388.4L239.4,392.6L241.4,393.6L241.9,395.1L241.9,396.1L238.1,399.1L234.4,404.4L235.4,404.1L237.9,406.4L238.4,406.1L239.1,406.4L242.6,408.9L244.9,411.4L244.1,412.6L245.1,413.9L246.1,412.6L246.6,410.1L249.6,406.9L251.4,402.1L252.9,400.6L253.4,396.6L252.9,395.6L252.9,393.4L254.4,391.1L257.1,388.6L259.1,388.1L261.6,386.4L264.4,385.6L267.1,385.6L267.4,384.1L269.1,382.9L269.4,380.1L271.6,376.9L271.9,373.1L272.6,371.4L272.6,368.6L272.9,368.4L272.6,361.1L272.9,360.1L274.1,359.4L276.6,354.4L280.9,349.4L281.4,348.1L281.9,344.4L280.6,339.6L279.9,338.9L277.6,338.6L275.9,337.9L272.6,334.6L269.4,332.9L265.9,332.9L261.6,331.4L259.1,332.4L258.9,332.1L259.1,330.9L257.9,329.4L254.4,327.6L251.1,326.9L249.6,328.1L249.4,325.9L245.1,325.4L244.6,324.6L246.4,322.4L246.1,320.6L245.4,320.4L244.6,319.4L244.1,316.4L243.1,314.1L242.4,314.6L241.4,316.1L240.4,318.6L239.4,319.9L238.1,320.1L237.6,319.1L236.6,319.9L234.6,318.9L233.6,319.1L232.6,318.9L232.4,319.1L232.6,319.9L232.1,320.6L229.1,320.4L228.4,321.1L227.1,321.4L226.4,322.1L225.9,322.1L223.4,320.6L222.9,316.9L223.1,315.6L223.9,314.6L223.4,313.6L222.6,313.1L222.9,312.4L222.6,311.6Z"/>
<path fill="#fdb462" d="M227.4,463.6L227.6,464.9L229.4,468.6L232.4,468.6L233.6,469.6L235.4,469.4L235.9,468.1L232.6,467.6L229.6,466.1Z"/>
<path fill="#ffffb3" d="M229.1,468.9L227.4,464.6L223.9,465.1L223.4,466.4L222.9,465.4L218.4,466.1L224.6,469.1L227.1,469.4L228.4,470.1ZM222.9,466.4L223.1,466.1L223.4,466.4L223.1,466.6Z"/>
<path fill="#e56e5a" d="M223.9,303.1L221.9,305.1L222.6,306.6L220.6,307.6L220.6,308.9L219.9,309.6L221.4,311.6L222.1,311.4L222.9,311.6L223.1,312.1L222.9,313.1L223.6,313.6L224.1,314.6L223.4,315.6L223.1,316.9L223.6,320.6L225.1,321.6L226.4,321.9L226.6,321.4L227.9,321.1L229.1,320.1L230.6,320.4L229.6,318.6L229.1,316.6L228.1,316.1L227.4,314.6L227.9,313.4L227.6,312.6L229.1,311.9L229.6,309.4L226.9,306.9L226.9,305.9L226.1,304.9Z"/>
<path fill="#ffffb3" d="M234.9,309.4L232.9,309.6L232.4,310.1L229.9,309.6L229.4,311.9L227.9,312.6L228.1,313.4L227.6,314.6L228.4,316.1L229.4,316.6L229.9,318.6L230.9,320.1L232.1,320.4L232.4,319.9L232.1,319.1L232.6,318.6L232.9,318.9L234.6,318.6L235.4,319.1L236.1,318.1L236.6,315.6L235.9,314.4L235.6,312.4L236.9,310.1Z"/>
<path fill="#38aaba" d="M196.6,292.4L195.1,294.1L192.6,295.6L190.9,295.4L190.4,296.1L189.1,296.1L187.9,297.4L187.1,300.1L186.1,300.6L184.4,302.4L182.9,302.6L183.4,304.4L182.9,305.1L182.1,304.9L181.9,306.4L182.6,307.6L182.9,309.9L182.4,310.6L182.9,313.1L182.4,314.4L183.1,315.1L181.6,317.9L179.9,318.6L179.6,320.4L178.9,321.1L180.9,322.6L181.9,322.9L182.4,323.9L184.1,324.4L185.1,323.9L186.1,324.9L187.1,325.4L187.9,325.1L189.9,326.9L190.1,327.6L191.6,328.9L192.6,331.1L194.4,331.4L195.6,330.6L196.4,331.1L197.4,330.9L198.4,331.1L199.9,332.4L198.6,334.9L200.1,336.4L200.9,330.4L200.9,327.6L200.6,326.6L199.6,325.6L199.6,324.1L200.6,323.4L201.4,323.6L201.4,322.6L200.1,322.1L200.1,320.9L200.4,320.6L204.6,320.9L205.4,319.9L206.1,320.6L206.4,322.4L206.9,321.9L206.4,319.9L205.6,318.4L204.9,317.9L206.1,316.4L204.9,313.6L205.1,311.4L206.1,309.1L205.4,308.6L204.1,309.1L203.1,308.9L201.4,309.1L199.9,306.9L199.1,306.6L195.4,306.9L194.4,305.4L194.6,303.1L194.1,302.6L193.9,301.4L192.6,300.9L193.4,299.6L193.9,297.1L195.6,295.6L196.1,294.6L197.6,294.1L197.9,292.9Z"/>
<path fill="#e56e5a" d="M179.1,321.6L176.1,323.1L176.4,324.4L175.4,325.9L175.1,327.6L174.1,328.1L174.6,329.9L174.1,331.1L175.6,332.4L176.4,331.4L176.9,332.1L175.9,333.9L176.4,335.4L175.6,335.9L175.6,336.4L177.4,336.6L178.4,338.1L179.6,337.1L179.9,335.4L181.1,333.4L182.1,332.6L184.4,331.9L186.6,329.4L187.1,327.9L186.9,325.4L186.1,325.1L185.1,324.1L184.4,324.6L182.4,324.1L181.9,323.1L180.9,322.9Z"/>
<path fill="#38aaba" d="M187.6,325.4L187.1,325.6L187.4,327.9L186.9,329.4L184.4,332.1L181.4,333.4L180.1,335.4L179.9,337.1L178.4,338.4L177.4,336.9L176.9,336.6L175.9,336.9L175.4,336.4L175.4,335.9L176.1,335.4L175.9,334.1L174.1,335.9L173.4,337.9L174.6,340.1L173.9,341.4L175.4,342.1L177.4,344.1L182.4,354.1L186.6,360.9L186.1,361.6L187.1,363.6L189.4,365.4L189.9,365.4L193.9,368.6L198.1,370.6L199.1,372.4L201.1,373.4L202.1,372.9L203.9,368.9L202.6,366.4L203.1,365.6L202.6,364.6L203.4,363.4L203.1,359.1L203.6,358.4L201.4,354.1L200.4,354.6L199.4,353.9L199.1,350.1L197.4,351.9L195.4,351.6L194.4,350.4L192.9,349.9L193.4,348.9L191.9,347.4L190.9,345.4L191.4,344.6L191.4,343.6L192.9,342.6L192.4,341.4L193.1,340.4L193.4,338.9L196.4,337.1L197.6,336.9L197.9,336.4L200.1,336.6L198.4,334.9L199.6,332.4L197.9,331.1L196.4,331.4L195.6,330.9L194.4,331.6L192.6,331.4L191.4,328.9L189.9,327.6L189.6,326.9L188.6,325.9Z"/>
<path fill="#fdb462" d="M221.1,376.9L220.4,378.9L219.9,383.6L224.4,387.9L226.4,388.1L228.9,389.9L231.9,391.4L232.4,392.9L230.6,396.4L230.9,396.6L234.9,397.6L237.1,397.1L238.6,395.4L238.9,392.9L239.4,391.9L239.4,388.4L238.6,387.9L237.6,388.4L236.6,388.1L235.9,384.9L235.1,383.9L234.1,383.4L232.6,383.9L230.6,383.1L230.4,379.9L229.6,378.6L229.4,377.4L227.1,376.1L224.6,376.1Z"/>
<path fill="#fdb462" d="M234.6,416.4L235.4,418.6L237.1,418.6L236.9,417.9ZM234.4,404.6L233.9,405.9L233.9,410.1L234.4,411.6L233.9,412.9L234.1,414.9L235.4,415.9L237.1,415.9L238.9,416.9L240.6,416.6L241.9,417.1L243.9,416.1L244.9,414.4L243.9,412.6L244.6,411.4L243.9,410.4L238.6,406.4L237.9,406.6L235.4,404.4Z"/>
<path fill="#fdb462" d="M211.6,382.6L210.1,385.4L210.1,388.4L207.6,389.9L208.4,393.6L208.1,395.1L208.9,396.1L207.4,397.9L206.4,399.9L206.1,401.4L206.6,405.4L205.9,408.1L207.9,412.4L208.6,412.9L209.1,414.6L208.4,417.6L209.1,420.1L207.9,421.6L208.4,424.1L209.9,426.6L208.9,427.6L209.1,432.9L210.6,435.6L209.9,436.6L211.1,439.1L212.6,440.4L212.4,441.1L214.1,442.9L213.4,443.6L214.1,444.9L214.4,446.9L214.1,450.6L214.9,451.9L214.9,453.4L213.9,454.9L215.1,457.4L215.9,457.9L217.1,457.9L218.1,459.9L219.4,461.1L225.4,461.6L227.1,462.4L225.1,460.6L223.6,457.6L224.1,456.9L225.4,456.1L225.6,453.1L227.6,451.6L227.4,449.4L222.9,447.1L222.6,444.9L223.9,443.6L225.9,443.6L225.9,441.6L225.4,439.6L226.6,437.9L228.4,437.1L227.1,435.9L226.4,436.6L225.1,436.1L224.4,435.4L223.6,433.4L224.6,432.6L226.4,433.6L227.1,433.6L229.6,432.4L228.9,431.1L228.9,428.9L228.1,427.6L228.4,427.4L231.4,427.6L234.9,427.1L237.4,425.9L238.9,422.6L238.9,421.1L237.1,419.6L235.1,418.6L234.4,416.1L233.9,415.9L233.6,412.9L234.1,411.6L233.6,410.1L233.6,405.9L234.1,404.4L236.1,401.4L238.6,398.4L241.6,396.1L241.4,393.9L239.1,392.9L238.9,395.4L236.6,397.6L234.9,397.9L230.9,396.9L230.4,396.4L232.1,392.9L231.6,391.4L228.9,390.1L226.4,388.4L224.4,388.1L219.4,383.1L216.9,383.1L216.4,384.6L215.9,384.9L214.6,383.4Z"/>
<path fill="#ffffb3" d="M223.6,463.9L223.9,464.9L227.4,464.4L226.6,463.1L225.4,462.6ZM202.9,371.6L202.4,372.9L201.1,373.6L202.1,376.9L202.6,380.6L202.6,394.1L203.1,398.4L202.4,401.6L203.1,403.9L202.9,406.9L204.1,410.4L204.1,415.4L203.6,417.6L203.4,422.6L202.6,423.4L204.9,428.4L204.4,430.9L205.4,435.6L205.6,434.9L206.9,436.1L208.1,436.4L208.6,436.9L209.4,441.4L209.1,442.1L206.6,441.1L207.4,445.6L206.4,447.9L208.9,448.4L209.4,448.9L208.4,450.4L208.4,453.1L210.4,457.4L212.1,458.9L212.4,460.4L213.4,461.9L217.1,463.9L216.4,464.1L214.9,463.6L218.1,465.9L222.9,465.1L222.4,463.9L222.9,463.4L223.6,463.1L224.6,462.1L226.4,462.1L219.4,461.4L217.9,459.9L217.1,458.1L215.9,458.1L214.9,457.4L213.6,454.9L214.6,453.4L214.6,451.9L213.9,450.6L214.1,449.4L213.9,444.9L213.1,443.6L213.9,442.9L212.1,441.1L212.4,440.4L210.9,439.1L209.6,436.6L210.4,435.6L208.9,432.9L208.6,431.1L208.6,427.6L209.6,426.6L208.1,424.1L207.6,421.6L208.9,420.1L208.1,418.1L208.9,414.6L208.4,412.9L207.6,412.4L205.6,407.6L206.4,405.4L205.9,403.1L206.1,399.9L207.1,397.9L208.6,396.1L207.9,395.1L208.1,393.6L207.4,389.9L209.9,388.4L209.9,385.1L208.6,385.4L208.1,384.9L205.4,379.1L205.9,376.4L204.6,375.1L204.4,373.9ZM218.1,464.6L218.4,464.4L218.6,464.6L218.4,464.9ZM217.4,464.4L217.6,464.1L218.1,464.4L217.9,464.6ZM216.9,464.1L217.1,463.9L217.6,464.1L217.4,464.4Z"/>
<path fill="#e56e5a" d="M221.6,296.6L219.6,296.9L219.6,297.9L219.1,298.6L219.4,298.9L221.4,298.6Z"/>
<path fill="#ffffb3" d="M205.6,435.1L205.4,435.9L205.6,438.9L207.6,439.4L207.6,437.9L206.6,435.9Z"/>
<path fill="#ffffb3" d="M252.6,185.9L252.1,184.9L250.6,184.4L250.9,182.4L250.4,181.9L249.1,181.4L246.9,181.1L246.1,179.9L243.9,178.1L245.1,176.4L242.9,168.4L238.1,172.1L234.9,173.6L234.1,172.1L232.4,171.6L233.4,168.4L234.4,166.6L231.6,166.6L230.4,164.6L228.6,163.4L226.9,164.1L224.6,163.9L222.4,163.1L220.6,163.6L219.1,167.1L218.6,169.6L214.9,172.1L216.4,173.9L216.4,176.1L215.6,177.6L213.6,179.6L210.1,181.4L206.9,182.4L207.6,183.6L206.9,187.6L204.1,190.4L202.6,191.1L200.6,188.6L200.6,185.6L201.1,183.9L202.9,181.1L197.9,180.9L196.4,179.6L194.4,179.1L193.9,178.1L192.6,177.1L189.6,175.9L186.6,176.4L186.4,175.4L187.4,172.1L185.4,171.9L185.1,171.4L186.6,169.1L189.1,166.9L196.4,162.4L198.6,162.1L199.9,160.6L201.9,159.6L204.6,159.6L207.6,158.1L213.4,153.9L215.1,154.6L217.6,154.1L221.9,152.6L222.9,151.4L222.4,150.4L224.9,148.9L225.4,147.9L223.9,146.9L219.4,146.4L217.1,149.1L214.4,151.1L211.9,152.4L211.1,150.9L212.9,149.1L212.1,147.9L209.1,149.4L208.6,149.1L210.1,147.1L208.9,147.1L208.1,146.6L209.9,145.6L209.9,144.6L209.1,142.6L207.4,141.9L203.6,143.6L201.4,145.9L202.6,146.9L203.1,148.1L200.6,150.4L199.4,150.4L197.9,151.4L197.4,151.1L198.4,150.1L196.6,149.4L194.6,149.6L193.6,151.1L188.1,151.4L186.4,150.4L184.1,150.6L183.6,149.6L182.6,148.9L178.6,149.1L176.9,149.9L177.6,150.6L177.4,151.1L175.1,151.9L174.4,150.6L172.9,151.1L167.1,151.4L165.6,150.9L168.6,149.6L167.4,148.6L163.4,148.4L160.6,147.6L157.9,146.4L157.1,146.4L155.9,147.1L153.6,147.4L153.4,147.1L154.9,145.9L151.1,147.4L150.6,146.9L150.4,145.4L149.9,145.1L146.4,146.6L146.1,145.6L139.4,147.1L136.6,146.9L133.6,147.6L131.6,148.6L129.9,148.4L128.4,147.4L126.1,146.9L119.9,151.9L108.1,162.1L101.9,168.4L101.9,168.6L103.6,168.9L104.4,169.4L104.9,171.6L108.1,170.1L110.1,169.6L110.6,169.9L110.4,171.6L111.4,173.4L110.4,177.6L112.1,179.1L107.4,183.4L108.4,185.1L107.1,187.1L108.9,188.1L107.4,189.6L106.6,191.9L109.6,193.1L110.6,194.4L112.6,195.6L112.9,196.4L168.9,196.4L169.6,195.4L170.1,195.4L170.4,197.1L173.1,197.6L175.1,198.6L177.4,198.4L178.6,198.9L180.1,198.9L181.9,198.1L187.1,201.4L187.9,202.1L187.6,202.4L188.1,203.1L188.6,202.9L188.9,203.9L189.6,204.1L189.4,204.9L190.9,206.1L190.1,210.6L186.4,214.6L186.4,215.1L187.6,215.4L190.4,213.9L192.9,213.6L195.4,212.4L195.9,211.6L195.6,210.9L196.9,210.1L201.1,210.1L202.1,209.1L206.4,206.6L213.4,206.6L214.4,205.9L215.1,205.9L215.9,205.4L217.4,203.1L220.4,200.4L220.9,201.1L222.4,200.6L223.1,201.6L221.9,204.9L222.9,206.6L226.9,206.1L227.9,206.4L224.4,208.1L223.4,210.6L225.1,210.6L228.9,208.4L235.6,206.1L238.4,204.6L237.4,203.6L237.9,201.9L234.9,204.6L231.4,205.1L229.1,203.6L229.4,199.1L231.9,197.4L230.4,196.1L227.1,196.4L223.4,197.9L217.9,201.9L216.9,202.1L216.4,201.9L219.9,199.4L222.6,196.9L226.6,195.1L228.6,193.6L234.9,193.4L238.6,193.9L241.4,193.4L245.1,191.1L248.6,190.4L251.6,188.9L252.1,188.1Z"/>
<path fill="#4c6a9c" d="M222.9,201.6L222.4,200.9L220.9,201.4L220.4,200.6L217.6,203.1L216.1,205.4L215.1,206.1L214.4,206.1L213.4,206.9L206.4,206.9L202.1,209.4L201.1,210.4L196.9,210.4L195.9,210.9L196.1,211.6L195.4,212.6L192.9,213.9L190.4,214.1L187.6,215.6L186.9,215.6L186.1,215.1L186.1,214.6L189.9,210.6L190.6,206.1L189.1,204.9L189.4,204.1L188.6,203.9L188.6,203.1L188.4,203.4L187.9,203.1L187.1,201.6L181.9,198.4L180.1,199.1L178.6,199.1L177.4,198.6L175.1,198.9L173.1,197.9L170.4,197.4L169.9,196.9L170.1,195.6L169.6,195.6L168.9,196.6L112.9,196.6L112.4,198.4L110.6,201.4L110.1,201.1L110.6,199.1L108.9,198.4L107.9,198.4L106.6,202.4L104.9,206.1L101.9,210.1L99.4,212.6L99.1,214.6L98.1,216.6L96.1,219.1L96.6,220.9L96.1,221.6L95.9,223.1L96.4,224.9L97.1,225.9L96.6,226.4L96.9,230.4L97.9,232.4L97.6,234.4L99.9,234.9L100.4,235.6L101.4,235.6L101.6,236.4L102.4,236.6L103.4,238.1L103.1,239.4L108.6,238.9L108.9,239.6L115.4,242.4L121.6,242.4L122.1,241.4L126.1,241.4L128.6,244.6L129.1,247.4L131.4,248.6L133.4,246.6L135.4,246.6L136.9,247.9L137.6,249.4L137.9,251.1L138.9,252.6L139.1,255.4L141.9,256.9L143.1,256.9L142.9,254.6L143.9,252.1L145.6,250.6L148.1,249.6L149.9,248.1L151.4,247.4L153.6,246.9L155.4,247.4L157.6,247.1L158.9,248.4L160.9,248.6L161.6,248.1L162.6,248.4L162.9,248.1L162.4,247.6L162.6,246.1L164.6,245.1L166.9,245.6L169.9,245.1L170.9,245.6L171.9,247.1L175.1,246.1L175.9,246.6L177.1,249.6L177.1,250.4L176.4,251.6L176.4,253.1L177.6,256.6L178.6,257.6L178.9,258.9L180.1,259.1L180.6,258.9L181.4,257.4L182.1,254.6L181.6,252.1L181.9,250.1L181.4,249.4L180.9,247.1L180.9,244.1L181.6,242.4L184.9,239.4L187.4,238.1L188.6,236.6L190.6,235.9L192.9,234.1L194.9,233.6L196.9,231.6L197.1,228.1L196.6,227.6L197.1,225.9L196.9,225.1L197.6,224.4L198.6,225.4L197.4,227.1L197.6,227.1L200.4,224.1L200.6,223.1L200.1,222.6L200.1,221.9L200.4,221.6L200.9,221.9L201.1,222.6L204.4,218.9L203.9,218.6L204.1,218.4L206.1,218.4L208.9,217.6L207.6,216.9L207.9,216.6L209.6,216.6L213.9,215.6L214.1,214.9L213.6,214.4L213.4,215.4L212.6,214.4L212.6,213.1L213.1,212.1L215.6,210.1L217.9,209.6L222.4,207.6L222.6,206.6L221.6,204.9ZM196.4,224.9L196.6,224.6L196.9,224.9L196.6,225.1ZM197.4,223.4L197.6,223.1L197.9,223.6L197.6,223.9ZM206.6,217.1L206.9,216.9L207.6,217.1L207.4,217.4ZM125.9,146.9L123.1,145.9L119.9,146.1L117.9,145.6L116.1,145.6L114.1,144.9L111.1,145.1L110.4,144.6L110.6,144.4L107.6,144.1L106.9,144.6L106.6,144.4L106.9,143.6L104.9,143.1L101.1,144.4L98.9,144.1L95.4,145.1L92.6,145.4L90.1,146.1L87.1,147.9L84.4,148.6L80.9,148.6L78.4,149.9L79.1,150.1L80.1,151.4L79.6,152.6L80.6,153.6L79.9,154.9L77.1,154.9L76.9,154.6L78.1,153.9L76.1,153.9L67.6,155.9L67.9,157.1L67.4,158.1L69.1,158.6L72.1,158.4L73.1,158.9L73.9,158.4L76.6,157.9L76.9,158.1L75.4,158.9L75.6,159.1L74.6,160.4L72.6,161.1L71.1,160.9L68.9,161.9L68.1,161.6L65.9,161.9L58.6,165.4L58.4,166.6L56.9,168.1L57.6,169.6L59.4,169.4L60.6,169.6L60.6,170.1L57.9,172.4L61.4,171.9L61.6,172.1L61.4,172.6L62.6,172.1L62.9,172.4L62.6,173.1L64.1,172.4L64.9,172.6L66.4,172.4L66.6,172.6L63.4,174.9L59.9,176.6L55.9,177.6L53.4,179.1L50.4,179.4L46.6,180.9L44.9,181.1L44.6,182.1L42.1,182.9L45.1,182.4L47.1,181.4L49.9,180.9L52.6,179.9L54.1,180.1L56.9,179.4L59.6,177.6L63.1,176.9L65.6,175.4L67.4,175.1L74.6,172.1L74.6,171.1L75.1,170.6L79.4,169.1L82.1,167.6L82.6,167.9L79.9,169.6L78.4,171.4L81.4,170.9L84.4,169.6L87.4,169.4L88.9,167.6L91.4,167.1L95.1,169.4L98.1,169.1L101.1,170.1L101.9,170.9L102.6,172.6L104.4,173.6L108.6,173.9L108.9,174.4L107.9,176.1L108.6,178.1L107.1,180.4L108.4,181.1L108.6,182.1L111.9,179.1L110.1,177.6L111.1,173.4L110.1,171.6L110.4,169.9L107.4,170.6L104.9,171.9L104.4,171.1L104.1,169.4L101.9,168.9L101.6,168.4L108.1,161.9L119.9,151.6ZM66.4,172.4L66.6,172.1L66.9,172.4L66.6,172.6ZM82.6,167.6L82.9,167.4L83.1,167.6L82.9,167.9ZM83.1,167.4L83.4,167.1L83.6,167.4L83.4,167.6ZM83.9,167.1L84.1,166.9L84.6,167.1L84.4,167.4ZM85.9,166.6L85.4,167.1L84.4,166.9L85.4,166.4ZM85.6,166.4L85.9,166.1L86.1,166.4L85.9,166.6Z"/>
<path fill="#38aaba" d="M103.1,239.6L104.1,247.4L105.4,248.1L106.4,250.1L105.6,251.6L104.9,252.1L103.9,252.1L104.6,253.9L105.9,254.4L106.4,255.1L106.9,254.6L108.9,256.6L108.9,258.4L108.4,260.1L111.4,262.6L112.1,263.6L112.4,265.1L112.9,265.1L114.1,263.6L112.9,261.6L111.6,261.1L111.9,259.6L111.1,257.9L110.9,255.1L109.1,252.1L109.1,250.4L108.6,250.1L107.9,248.1L106.6,246.4L106.9,242.6L107.6,241.6L108.6,242.1L109.6,242.1L110.9,243.1L110.4,243.9L110.4,245.1L111.1,247.9L111.1,249.1L112.4,251.4L113.9,252.1L113.9,253.6L114.4,254.4L115.9,255.6L115.1,256.9L115.4,257.6L117.1,258.9L117.9,260.6L120.1,262.9L121.9,266.4L121.9,267.6L122.6,268.9L121.9,270.9L121.1,271.4L121.4,272.6L122.1,274.1L124.4,275.6L125.4,277.1L128.9,278.1L130.6,279.9L140.4,284.1L141.6,283.9L143.4,282.9L145.1,282.6L147.1,283.6L149.6,286.6L150.1,285.6L149.9,285.1L151.6,282.6L154.1,282.6L154.4,282.4L153.9,281.4L152.4,279.9L153.4,279.6L153.9,278.1L157.9,278.1L158.1,277.6L158.9,277.9L159.9,276.4L161.6,276.1L162.6,274.1L162.1,273.1L162.6,272.1L164.4,270.4L164.6,269.1L164.1,268.6L160.4,268.6L156.6,269.9L154.9,274.4L152.4,275.9L147.9,276.6L146.1,277.4L145.4,276.4L142.6,275.4L141.9,272.9L140.6,270.9L140.6,268.9L139.9,267.6L139.9,265.6L141.4,259.9L143.1,257.1L141.1,256.9L138.9,255.4L138.6,252.6L137.6,251.1L137.4,249.4L136.6,247.9L135.4,246.9L133.4,246.9L131.4,248.9L128.9,247.4L128.4,244.6L126.4,242.4L126.1,241.6L122.1,241.6L121.6,242.6L115.4,242.6L108.9,239.9L108.4,239.4L108.6,239.1Z"/>
<path fill="#e56e5a" d="M157.9,278.4L153.9,278.4L153.6,279.6L152.6,279.9L154.1,281.4L154.6,282.4L154.1,282.9L151.6,282.9L150.4,284.6L149.9,286.9L151.1,288.1L152.1,288.6L154.4,288.9L155.9,287.6L155.6,287.4L155.9,287.1L156.6,287.1L156.9,286.6L156.6,285.9L159.1,283.9L159.1,283.6L156.9,283.4Z"/>
<path fill="#e56e5a" d="M161.4,276.6L160.6,276.9L159.9,276.6L158.9,278.1L158.1,277.9L157.9,280.6L157.1,283.4L157.9,283.4L159.1,282.1L159.9,280.6L160.1,279.4L159.9,278.6L160.4,277.4L160.9,276.9L161.1,277.1Z"/>
<path fill="#ffffb3" d="M154.6,288.9L154.9,289.4L157.9,290.6L159.6,290.6L159.9,288.9L159.4,288.6L158.4,289.1L158.1,288.4L157.1,287.6L155.9,287.4L156.1,287.6Z"/>
<path fill="#e56e5a" d="M170.6,285.4L167.6,283.1L166.9,283.4L164.6,283.1L163.9,283.6L160.4,283.4L156.9,285.9L157.1,286.6L156.6,287.4L158.1,288.1L158.4,288.9L159.6,288.4L160.1,288.9L159.9,290.1L160.4,290.1L161.1,290.9L162.1,290.1L162.4,288.9L163.9,288.1L164.1,288.4L165.1,288.1L167.1,285.9L167.4,286.4L169.4,286.1L170.1,285.4L170.6,285.6Z"/>
<path fill="#4c6a9c" d="M170.9,285.9L170.1,285.6L169.4,286.4L167.4,286.6L167.1,286.1L165.1,288.4L164.6,288.6L163.9,288.4L162.4,289.1L162.1,290.4L161.1,291.1L160.4,290.9L160.6,290.6L160.1,291.1L163.9,295.9L164.9,295.4L166.1,296.1L166.9,295.9L167.6,296.6L168.6,296.4L168.6,295.4L169.1,294.6L168.9,293.6L169.6,292.6L169.9,288.9L170.6,287.6Z"/>
<path fill="#38aaba" d="M164.6,295.6L163.6,296.6L164.1,296.9L163.9,298.9L164.9,299.4L165.4,300.1L166.1,298.9L166.4,299.9L167.6,300.4L168.6,301.4L168.4,302.4L169.9,303.4L170.1,302.1L170.6,301.6L170.1,301.4L170.1,300.4L171.1,299.9L169.6,298.4L168.9,296.4L168.4,296.9L167.6,296.9L166.9,296.1L166.1,296.4Z"/>
<path fill="#e56e5a" d="M183.4,304.4L182.9,303.1L183.1,302.4L180.9,300.4L178.1,299.9L177.4,300.6L174.1,302.1L173.6,302.1L173.1,301.4L172.1,301.6L171.9,301.4L172.1,300.9L171.4,300.1L170.4,300.4L170.4,301.4L170.9,301.6L170.4,302.1L170.1,303.6L170.4,303.9L170.6,303.4L172.4,303.6L173.4,304.9L173.9,305.1L174.4,304.9L174.9,306.1L175.9,306.1L176.1,305.6L176.9,305.4L175.9,303.6L177.1,303.1L178.1,301.6L179.6,301.9L181.1,303.4L180.6,304.4L181.9,306.1L182.4,304.9L182.9,305.1Z"/>
<path fill="#4c6a9c" d="M168.9,267.6L169.6,267.9L171.1,267.6L171.6,266.9L172.4,266.9L174.1,265.4L175.1,265.4L176.1,265.9L175.6,266.4L176.1,266.9L179.1,267.1L179.9,267.9L182.9,268.4L183.4,269.9L184.1,270.6L184.9,270.6L186.4,271.4L184.9,272.9L186.6,272.6L191.4,272.9L193.1,271.9L191.4,270.9L189.9,270.4L190.1,269.9L189.1,269.4L188.1,269.4L184.1,265.9L182.1,266.4L181.1,265.1L179.6,264.4L175.4,264.1L172.9,264.6L171.1,265.6L170.1,267.1Z"/>
<path fill="#e56e5a" d="M197.6,276.1L198.1,276.9L198.1,278.4L198.6,278.9L200.1,276.9L201.4,277.4L202.1,276.6L202.6,276.9L204.1,276.6L205.1,277.4L206.1,276.1L203.9,274.9L204.1,274.4L203.1,274.4L202.6,273.4L201.9,273.6L200.6,272.9L198.6,273.1L198.6,275.1Z"/>
<path fill="#e56e5a" d="M182.9,277.1L185.1,278.6L186.1,278.1L187.9,278.1L187.1,277.1L184.6,276.4L183.4,276.6Z"/>
<path fill="#fdb462" d="M185.6,258.9L184.9,260.6L185.6,261.4L185.6,262.1L186.1,262.9L186.6,262.6L186.6,260.6L186.1,258.9ZM188.9,255.1L187.4,254.1L186.9,254.6L186.4,254.4L184.4,254.6L184.4,255.6L186.1,255.4L187.4,254.6L188.1,255.4L187.9,256.1L188.1,257.1Z"/>
<path fill="#ffffb3" d="M229.6,202.4L229.9,203.4L231.9,204.4L232.9,204.4L234.4,203.1L233.4,203.4L231.4,203.1L230.6,201.6ZM232.1,194.4L234.1,195.9L236.9,196.4L236.6,195.6L234.9,194.6L233.1,194.1ZM104.1,192.6L103.9,194.1L105.1,194.4L105.6,195.4L106.9,196.1L106.9,197.1L109.4,198.4L110.6,197.9L110.6,196.4L109.4,195.4L109.1,193.4L107.4,193.1L105.1,192.1ZM251.9,190.1L250.9,189.9L247.9,191.6L244.4,195.9L241.6,197.9L242.4,198.6L240.9,199.4L240.9,200.1L243.1,200.4L247.4,200.1L248.6,200.9L247.1,201.9L248.4,202.1L251.6,199.9L251.9,200.1L250.6,202.4L251.6,202.9L252.9,202.6L254.4,200.4L254.1,199.6L254.4,197.4L253.9,197.6L253.1,197.4L253.9,196.1L252.1,195.1L250.9,195.9L249.6,195.1L250.4,194.4L248.6,193.6ZM104.6,183.6L103.6,183.9L102.1,183.6L100.9,184.6L100.6,185.6L101.1,186.4L100.9,186.9L101.1,188.6L101.9,188.6L101.9,186.6ZM218.4,164.1L217.4,163.6L216.1,164.4L216.1,165.1L216.9,165.4ZM214.6,162.4L212.1,162.4L210.1,163.4L210.1,164.1L211.6,164.1L214.4,162.9ZM205.9,160.9L208.4,160.6L208.6,160.9L208.4,161.9L211.9,160.9L213.6,159.9L214.1,159.9L214.6,160.6L216.4,161.1L219.1,160.4L218.1,159.6L217.1,159.9L216.9,159.6L217.4,158.9L217.1,158.4L213.9,156.6L212.9,156.9L212.6,156.6L213.1,155.9L211.9,155.6L208.1,159.9ZM233.9,150.6L233.1,149.9L231.4,150.1L229.6,151.6L229.4,152.6L231.6,152.6L233.1,151.9ZM200.9,148.1L200.4,146.9L198.9,145.9L196.9,146.9L194.4,147.4L195.9,148.4L197.6,148.1L198.9,148.9ZM214.1,144.4L215.6,145.4L221.9,146.4L227.6,146.6L229.6,146.4L230.6,145.9L231.6,146.6L232.9,146.6L233.6,148.1L232.4,148.6L234.6,149.1L236.9,150.1L237.4,150.9L237.1,152.1L233.9,154.1L232.4,155.6L232.1,156.4L225.1,156.6L223.1,158.4L224.1,159.1L226.6,159.1L226.9,158.9L229.4,158.9L229.9,158.1L233.6,160.6L232.6,161.1L234.1,162.4L237.1,163.6L241.9,164.6L241.9,163.9L239.6,160.9L239.9,160.6L244.6,162.9L246.4,161.1L246.1,158.4L244.4,157.4L242.9,155.9L243.9,154.6L246.4,154.1L247.6,156.1L249.4,157.4L253.6,155.1L255.4,153.1L252.6,153.1L251.4,150.9L248.6,150.4L245.9,148.9L246.1,148.6L249.4,147.9L249.1,145.9L248.1,144.9L244.6,144.1L243.9,142.6L241.1,143.1L240.9,142.1L236.9,140.1L237.1,139.9L239.4,140.1L239.6,139.4L237.9,138.4L233.6,138.1L232.9,138.9L233.6,140.1L235.1,139.9L236.6,140.1L234.9,141.1L231.6,141.6L231.1,141.4L232.1,140.1L231.1,138.1L226.4,138.9L224.1,140.4L223.4,139.9L223.4,139.4L225.6,137.9L220.9,138.6L218.1,139.6L216.1,141.1L214.4,143.4L215.9,143.6ZM207.4,138.1L203.9,138.4L202.4,137.9L199.9,138.9L200.1,139.9L199.9,140.4L197.1,140.1L196.4,140.6L198.6,142.1L199.1,143.1L200.1,143.4L202.4,143.1L204.1,142.6L206.1,140.6L204.9,139.6L207.1,138.6ZM218.4,137.9L216.4,137.4L211.1,137.6L208.9,138.6L207.6,139.9L206.9,141.6L208.6,141.9L211.9,140.1L214.6,139.6ZM156.6,142.1L158.6,142.9L159.1,143.4L158.9,144.1L163.6,143.4L166.6,141.6L171.4,140.1L171.6,140.4L166.6,142.6L169.1,143.6L166.6,144.1L166.6,144.9L167.9,145.1L173.1,144.9L174.4,145.4L174.1,145.6L169.4,145.6L166.1,146.1L166.4,147.9L168.4,147.6L169.9,148.6L169.9,149.4L178.1,148.9L182.9,147.9L183.9,147.9L185.6,148.6L188.9,148.9L190.1,148.1L189.6,147.4L189.9,147.1L192.6,147.1L193.6,146.1L189.9,143.9L192.1,140.4L190.1,139.1L188.1,139.4L187.1,141.4L185.6,142.4L185.4,141.9L186.1,140.4L185.4,139.9L182.6,140.9L181.4,139.9L178.4,140.1L178.1,139.9L178.9,139.4L178.4,139.1L173.9,139.9L173.6,139.6L173.9,139.4L177.6,138.6L176.1,137.1L172.1,137.1L170.9,136.6L164.9,136.9L164.4,138.4ZM177.6,140.1L177.9,139.9L178.1,140.1L177.9,140.4ZM171.6,140.1L171.9,139.9L172.6,140.1L172.4,140.4ZM172.6,139.9L172.9,139.6L173.9,139.9L173.6,140.1ZM215.9,134.9L215.4,134.1L212.6,134.6L210.6,135.6L211.9,136.1L214.4,136.4L215.9,135.6ZM212.4,132.6L212.1,132.1L211.9,132.4L209.4,132.1L207.1,132.9L205.1,132.9L203.4,134.4L205.6,134.1L205.9,134.4L204.6,135.4L208.6,135.6L211.9,133.4ZM199.1,133.6L198.4,133.4L196.4,133.6L196.1,133.1L196.9,132.1L195.4,131.9L193.1,132.6L192.9,134.4L191.9,134.6L190.4,134.4L189.1,133.1L185.6,132.4L178.6,135.1L184.9,135.4L185.1,135.6L183.1,136.4L182.9,136.9L184.1,136.9L189.6,135.9L196.4,135.4L198.1,134.6ZM185.9,135.4L186.1,135.1L186.4,135.4L186.1,135.6ZM195.9,133.6L196.1,133.4L196.4,133.6L196.1,133.9ZM214.4,131.9L215.4,132.6L216.9,132.6L218.6,133.1L218.9,133.6L217.4,135.9L221.4,136.4L222.6,136.9L228.9,136.6L229.1,136.4L233.6,136.6L236.9,135.9L237.6,135.1L237.1,134.4L235.4,133.9L230.6,134.1L228.9,134.6L224.1,134.4L222.6,133.4L223.4,132.6L222.9,131.9L219.9,131.9L219.1,131.4L215.9,131.1ZM187.9,130.1L182.9,130.4L173.4,133.1L174.6,133.6L176.1,133.6L181.4,132.4L183.6,132.4ZM198.4,129.6L195.6,129.1L193.9,129.4L192.1,130.1L193.1,130.6L197.4,130.1ZM216.1,129.4L217.1,129.9L219.4,129.4L220.6,128.6L219.4,127.9L217.1,127.9ZM206.4,128.9L209.6,128.9L210.9,129.4L213.4,129.6L213.9,127.9L208.1,127.1L207.4,127.9L208.1,128.1ZM276.9,121.4L275.4,120.9L264.4,120.6L264.1,120.4L252.4,120.6L248.6,121.1L247.1,121.9L246.1,121.4L243.6,121.4L241.9,121.9L236.1,122.1L234.1,122.6L233.9,123.1L234.6,123.4L235.1,124.4L235.6,124.6L243.6,124.9L243.9,125.1L242.6,125.6L237.4,125.4L236.9,126.1L238.1,126.9L236.1,127.9L234.6,127.6L237.1,126.9L235.9,126.1L236.1,125.1L232.4,124.6L231.6,123.6L228.4,123.6L228.1,124.1L225.6,124.4L223.1,125.4L222.9,126.4L223.6,126.9L225.1,127.1L223.9,128.1L224.4,128.9L228.6,129.1L232.1,128.4L232.4,128.6L231.9,128.9L233.9,129.1L234.4,129.9L234.1,130.4L231.9,129.6L230.4,129.6L229.4,131.1L226.4,131.6L225.4,132.6L229.1,132.6L229.4,132.9L235.9,132.6L239.1,133.1L243.9,131.9L244.1,131.4L242.1,131.4L241.9,131.1L242.1,130.9L243.9,130.6L246.6,129.4L247.9,129.4L250.9,128.4L250.6,127.6L251.6,127.1L254.9,126.9L255.6,126.4L259.4,126.1L262.9,124.6L270.1,123.1L269.4,122.9L269.6,122.6L275.4,122.1ZM232.1,128.4L232.4,128.1L233.1,128.4L232.9,128.6ZM232.9,128.1L233.1,127.9L233.6,128.1L233.4,128.4ZM233.9,127.9L234.1,127.6L234.9,127.9L234.6,128.1Z"/>
<path fill="#4c6a9c" d="M6.9,271.9L5.6,274.4L5.6,275.1L6.1,275.4L8.6,273.9L8.1,272.9ZM5.1,270.1L5.6,271.1L6.6,270.6L6.1,270.1ZM1.9,268.4L2.1,269.1L2.9,269.4L3.1,269.1L2.6,268.1ZM44.6,181.9L44.1,181.4L40.9,182.6L40.9,183.1ZM106.1,178.4L104.1,180.9L105.1,181.6L107.4,179.1ZM107.1,174.1L105.1,174.4L104.1,176.4L103.6,178.6L106.6,176.6ZM73.6,174.4L72.1,174.1L70.6,174.9L68.9,175.1L67.4,176.6L68.1,177.1L70.9,176.4L73.6,175.1ZM55.6,168.6L53.9,168.4L52.1,168.9L52.1,169.1L53.4,169.9ZM53.9,161.1L54.1,161.4L55.6,161.1L56.6,162.1L59.1,161.4L57.6,161.1L57.1,160.4L56.4,160.6L55.1,160.4Z"/>
<path fill="#4c6a9c" d="M639.1,203.9L637.9,201.4L638.1,199.9L637.6,198.1L634.9,199.1L633.9,200.1L630.9,200.1L628.4,197.6L624.9,195.9L620.6,194.9L617.1,191.6L611.4,187.4L607.1,185.9L602.6,185.6L600.9,186.1L600.6,187.1L601.6,187.4L602.9,189.1L602.4,189.9L602.4,192.6L603.1,193.6L601.1,195.6L598.4,194.6L598.6,198.9L599.6,199.6L600.4,199.4L602.9,199.6L603.9,198.9L604.9,199.1L608.6,201.1L609.6,202.6L609.4,202.9L608.4,202.6L604.6,202.9L603.9,203.4L603.1,205.4L600.4,206.4L599.1,207.6L595.6,206.9L595.4,208.4L597.4,210.1L595.1,212.9L593.6,213.6L590.1,213.6L587.4,214.6L585.4,216.1L584.1,215.1L581.4,215.1L578.1,213.6L576.6,213.4L571.9,213.6L569.1,213.1L565.9,213.1L564.1,211.9L561.9,209.1L560.6,208.9L557.4,207.1L551.6,206.4L550.1,205.1L549.4,201.9L546.9,200.1L543.6,199.1L540.1,196.1L538.9,198.1L537.6,198.4L538.6,200.4L538.1,201.9L537.4,202.1L533.6,201.1L533.9,205.6L532.4,206.6L529.6,207.1L529.9,207.9L533.1,211.6L531.9,212.4L532.6,213.9L532.4,214.4L529.6,215.9L528.9,217.1L526.6,217.4L526.1,219.1L523.4,218.6L520.9,220.1L520.9,220.6L522.1,223.6L522.9,223.4L524.1,223.9L525.6,227.1L527.4,228.1L528.9,230.4L532.6,231.6L536.1,234.9L536.4,237.1L537.6,238.4L537.9,239.1L537.6,239.9L536.4,239.6L537.6,242.1L543.4,245.6L544.1,244.9L545.1,245.1L550.1,247.9L551.1,249.1L553.4,249.6L555.6,250.9L559.1,251.6L560.6,251.6L561.6,251.1L562.4,252.9L562.9,251.6L564.4,250.4L565.9,251.1L567.4,251.1L568.6,251.9L570.1,251.6L572.4,249.1L574.1,247.9L576.1,248.6L577.4,247.4L579.1,249.4L578.6,250.1L580.4,250.6L582.1,250.4L583.1,251.9L584.6,252.9L585.4,256.9L583.9,259.1L584.1,262.1L585.6,261.6L586.4,261.9L587.1,263.9L588.9,264.9L588.6,266.9L591.1,268.1L592.6,267.4L593.1,268.9L594.1,269.1L593.4,266.9L593.6,266.1L594.9,265.9L595.9,265.1L599.9,264.9L601.6,263.6L602.9,264.4L605.1,264.9L605.4,265.1L605.1,266.6L610.6,267.1L611.4,268.6L612.1,268.6L612.6,269.4L613.6,269.9L613.9,271.9L614.6,271.6L615.1,268.9L618.6,267.9L620.1,267.1L621.1,265.9L622.1,266.6L623.4,265.6L625.9,265.4L628.1,263.6L631.1,260.6L632.6,257.6L634.1,251.6L635.6,250.9L635.1,246.6L633.6,245.9L632.6,244.4L633.6,243.6L633.1,241.9L629.6,238.6L626.4,234.6L623.6,233.1L624.1,231.4L625.6,230.1L626.4,228.6L628.9,228.1L628.1,226.9L626.1,226.6L624.1,225.6L622.1,227.4L620.9,226.9L619.9,225.4L617.9,225.1L615.9,223.1L616.6,222.1L618.4,221.9L618.6,220.6L619.6,219.1L621.9,217.4L623.6,218.9L622.9,220.4L623.9,221.6L623.4,222.9L625.4,222.1L626.1,220.9L628.6,220.1L629.4,218.4L631.1,217.1L631.6,214.9L633.1,215.9L634.6,215.9L633.6,214.9L636.1,213.6L636.6,211.9L638.4,213.1L637.9,212.4L638.6,211.9L637.4,209.4L635.4,207.1L636.9,205.9L639.4,206.4Z"/>
<path fill="#38aaba" d="M65.4,154.9L64.9,153.1L60.9,152.6L59.6,150.4L57.9,148.4L44.4,157.4L46.9,156.6L47.6,155.4L49.1,155.1L49.4,155.4L48.9,155.6L48.6,156.6L51.4,156.1L52.1,156.6L51.4,157.6L52.4,158.1L52.9,159.1L54.6,159.1L56.4,158.4L59.1,156.4L62.4,156.1L64.9,155.4ZM60.4,152.6L60.6,152.9L58.9,154.4L58.4,153.9ZM60.4,152.6L60.6,152.4L60.9,152.6L60.6,152.9ZM410.9,148.4L411.4,149.9L414.1,151.4L412.9,152.9L415.6,155.6L414.9,157.6L416.9,159.4L416.6,160.6L419.6,162.4L419.1,163.6L414.6,168.1L416.4,169.1L414.9,170.4L414.1,172.6L415.1,174.4L414.9,175.4L415.6,175.9L415.9,177.1L416.6,178.4L418.1,178.6L419.1,179.6L420.6,179.4L422.4,180.1L422.9,181.1L422.6,181.9L424.9,184.4L426.1,184.6L427.1,185.6L426.1,186.4L424.6,186.4L425.9,188.6L426.6,188.1L429.4,187.9L431.1,189.6L430.9,190.4L432.4,190.9L433.6,192.4L435.9,193.4L437.6,192.9L439.1,194.1L440.9,194.1L443.9,195.1L443.4,197.4L444.1,198.6L444.1,199.4L441.9,199.9L441.1,200.4L441.4,201.6L442.6,201.1L442.9,201.6L440.1,202.6L441.6,203.6L440.4,205.6L439.4,206.1L439.1,206.6L440.9,207.9L443.9,209.1L446.1,210.9L447.1,210.4L448.4,210.9L450.9,211.1L453.9,212.1L455.4,213.1L456.4,212.6L458.1,212.9L459.1,213.6L459.4,214.4L461.6,214.9L463.4,216.6L464.1,216.6L465.4,215.1L462.4,212.1L462.1,210.4L459.6,207.9L461.4,205.1L462.9,204.9L463.6,203.6L462.4,202.9L462.4,201.6L460.9,200.1L459.4,200.1L456.9,198.1L457.6,196.6L456.9,195.4L458.1,192.6L460.4,193.9L460.1,192.6L463.6,189.6L466.9,189.4L469.1,190.1L474.1,192.4L476.1,191.1L479.6,191.1L482.1,192.4L482.6,191.6L485.4,191.9L485.1,190.9L481.4,189.1L482.9,187.9L482.4,187.1L483.6,186.6L481.9,184.9L482.1,184.1L482.6,183.6L489.6,182.9L491.1,182.1L494.9,181.4L496.1,180.4L499.9,180.9L501.6,183.4L503.1,182.9L505.9,183.4L506.6,183.9L507.1,185.1L508.6,184.9L512.4,182.6L512.6,182.9L512.4,183.6L516.1,185.9L522.6,191.4L523.4,190.4L526.6,191.9L529.6,191.1L530.9,191.6L532.4,193.1L533.6,193.4L535.4,194.6L537.9,194.4L539.9,196.1L540.4,195.6L542.9,194.9L544.6,193.4L547.6,191.9L549.4,192.6L551.9,192.6L553.9,193.9L556.4,193.9L559.1,194.6L559.9,193.1L558.1,191.6L558.4,189.6L558.9,188.6L561.6,189.6L566.1,190.4L568.6,192.9L571.4,193.6L574.6,192.9L578.1,193.1L582.4,195.6L584.9,195.6L587.4,196.1L588.6,195.4L591.1,195.1L592.9,193.1L594.1,193.4L595.9,194.4L598.1,194.1L598.6,194.6L601.1,195.4L602.9,193.6L602.1,192.6L602.1,189.9L602.6,189.1L601.6,187.6L600.4,187.1L600.6,186.1L602.6,185.4L607.1,185.6L611.4,187.1L617.1,191.4L620.6,194.6L624.9,195.6L628.4,197.4L630.9,199.9L633.9,199.9L634.9,198.9L637.6,197.9L638.4,199.9L638.1,201.4L639.4,203.9L639.6,206.4L639.1,206.6L636.9,206.1L635.6,207.1L637.6,209.4L638.9,211.9L638.6,212.4L638.1,212.4L639.4,213.9L639.1,213.4L640.9,211.4L643.1,212.6L644.4,212.6L646.1,211.1L648.1,203.9L647.6,202.1L648.1,198.1L646.1,194.1L643.9,191.4L643.1,188.4L640.9,186.1L635.9,183.6L633.6,183.4L633.4,184.4L632.9,184.6L631.1,184.1L628.9,182.6L626.4,182.4L625.4,181.9L626.6,178.9L628.6,172.1L629.9,171.4L631.6,171.4L633.6,170.9L640.4,171.4L641.4,170.1L644.9,170.4L646.6,172.1L652.6,171.4L649.4,169.6L649.6,166.1L650.4,165.6L653.4,165.1L658.4,167.9L659.9,165.4L658.6,163.6L660.4,163.1L663.1,166.6L662.1,168.4L661.9,169.6L661.9,173.6L661.4,174.1L659.6,174.6L660.6,175.6L660.6,177.1L664.1,181.4L676.6,191.6L677.4,189.1L675.6,186.9L676.1,186.4L677.9,186.1L675.6,183.1L677.6,181.9L675.4,180.6L674.6,178.9L675.9,178.6L672.1,175.1L669.4,174.6L668.4,173.6L667.9,171.1L666.9,169.9L667.1,169.6L669.4,169.9L669.9,168.9L671.9,169.9L674.4,167.9L679.1,169.6L678.4,168.4L680.1,165.4L681.6,164.9L683.9,163.1L687.9,163.9L687.4,162.9L680.6,159.6L678.6,158.9L678.9,158.6L679.6,158.6L680.6,157.4L667.4,148.6L663.4,147.4L657.1,146.4L652.1,146.6L646.9,145.9L647.6,146.9L650.6,148.1L650.9,148.6L650.1,149.1L644.6,147.1L640.6,147.4L638.4,146.9L634.6,146.9L632.6,147.4L630.1,146.9L628.1,145.1L625.6,144.1L620.4,143.9L620.1,144.1L615.1,144.4L609.4,142.9L605.9,141.4L592.1,140.4L588.9,139.9L588.1,140.9L591.4,142.6L591.1,142.9L588.9,142.6L588.4,143.1L584.1,142.6L582.1,143.1L578.6,142.1L579.6,143.9L579.4,144.4L575.9,143.6L572.9,142.4L571.9,141.6L571.6,140.6L569.6,139.6L565.6,138.4L558.9,138.1L560.6,139.4L560.4,139.6L555.6,139.6L553.6,139.4L552.1,138.4L545.6,138.1L543.9,138.6L542.1,137.6L540.6,138.1L538.4,137.4L536.1,137.1L535.9,136.9L539.9,134.9L538.4,133.6L532.4,132.1L526.4,132.4L525.1,131.6L522.1,131.4L521.9,131.1L522.6,130.6L519.9,130.1L516.6,130.9L516.1,131.6L516.6,132.4L516.4,132.6L513.6,132.6L511.9,133.6L510.1,133.1L506.1,133.4L505.9,133.9L502.4,134.1L500.6,135.1L498.6,135.4L498.1,136.6L499.6,137.4L498.6,137.9L492.9,137.9L490.9,138.4L493.1,140.9L494.1,141.4L493.9,141.6L492.1,141.1L488.4,141.1L486.4,142.1L487.6,143.1L486.9,143.4L485.9,142.6L485.1,140.9L483.6,139.9L482.9,140.1L484.4,141.6L482.4,142.9L485.6,144.6L485.9,146.9L487.1,148.1L488.9,148.4L489.4,149.9L491.1,151.1L490.4,152.1L490.6,153.1L490.1,153.6L488.9,153.9L488.6,154.6L486.6,154.1L488.1,151.4L487.9,149.6L485.1,148.4L483.6,145.4L480.4,142.9L480.9,141.4L479.6,140.1L474.9,139.6L474.1,140.1L474.4,141.9L472.6,144.1L474.9,146.4L475.1,147.4L476.9,147.6L479.4,148.9L479.9,149.4L479.1,150.4L471.4,147.6L463.9,146.4L463.4,147.1L465.9,148.4L464.6,149.9L461.9,148.6L460.1,149.6L456.9,149.6L455.9,150.4L454.9,150.4L453.9,149.9L454.6,148.9L453.1,148.6L448.6,150.6L445.1,151.6L445.4,152.6L445.1,153.1L442.6,153.6L441.6,153.1L440.6,151.9L442.9,151.4L442.1,150.6L440.4,149.9L436.4,149.4L438.1,150.6L437.6,152.1L439.6,153.4L439.4,154.4L438.9,154.9L437.6,154.1L435.1,154.4L432.4,156.4L434.1,157.9L432.9,158.6L428.1,157.1L427.1,157.9L428.6,158.9L428.4,160.1L425.1,159.1L424.4,158.4L424.1,156.9L423.4,155.4L420.9,154.1L420.6,153.6L421.6,153.4L424.9,154.4L429.1,155.1L431.4,154.9L433.6,153.4L433.1,151.9L431.9,150.9L424.4,148.1L419.1,147.6L416.4,146.4L414.1,147.6ZM677.9,158.6L678.1,158.4L678.6,158.6L678.4,158.9ZM487.6,143.4L487.9,143.1L488.1,143.4L487.9,143.6ZM493.9,141.6L494.1,141.4L494.6,141.6L494.4,141.9Z"/>
<path fill="#38aaba" d="M400.9,182.6L402.1,182.9L406.4,182.9L406.4,181.9L404.6,181.4L401.6,181.6Z"/>
<path fill="#fdb462" d="M540.4,195.9L542.1,197.9L543.6,198.9L546.9,199.9L549.9,202.1L550.1,204.4L550.9,205.6L552.4,206.4L557.4,206.9L560.6,208.6L561.9,208.9L563.4,210.9L565.9,212.9L569.1,212.9L571.9,213.4L576.6,213.1L578.1,213.4L581.4,214.9L584.1,214.9L585.4,215.9L587.9,214.1L590.1,213.4L593.6,213.4L595.1,212.6L597.1,210.1L595.1,208.4L595.6,206.6L599.1,207.4L600.4,206.1L603.1,205.1L603.6,203.4L604.6,202.6L606.1,202.4L609.4,202.6L608.6,201.4L604.1,199.1L602.9,199.9L601.6,199.6L599.6,199.9L598.4,198.9L598.1,194.4L595.9,194.6L594.1,193.6L592.9,193.4L591.1,195.4L588.6,195.6L587.4,196.4L584.9,195.9L582.4,195.9L578.1,193.4L574.6,193.1L571.4,193.9L568.6,193.1L566.1,190.6L561.6,189.9L559.1,188.9L558.6,189.6L558.4,191.6L560.1,193.1L559.1,194.9L556.4,194.1L553.9,194.1L551.9,192.9L549.4,192.9L547.6,192.1L544.6,193.6L542.9,195.1Z"/>
<path fill="#38aaba" d="M457.1,195.4L457.9,196.4L457.1,198.1L459.4,199.9L460.9,199.9L462.6,201.6L462.6,202.9L463.6,203.4L467.9,201.4L469.4,202.1L471.6,201.9L472.9,203.9L473.1,206.4L472.9,206.6L471.4,206.1L469.6,206.4L469.4,206.6L469.9,208.1L469.6,208.4L467.9,208.1L467.9,208.4L469.6,209.6L470.6,211.6L472.9,212.1L473.6,212.6L474.1,213.6L473.9,214.9L474.6,214.1L477.1,213.6L478.6,214.4L480.6,216.4L481.4,216.4L478.6,206.9L479.4,206.4L484.1,205.1L490.1,208.1L492.9,210.6L497.1,209.9L498.6,209.9L502.1,212.1L502.6,214.6L503.4,214.6L504.6,216.6L507.4,216.6L508.1,217.9L508.9,217.9L509.1,216.4L509.9,215.6L512.4,214.1L512.9,212.6L514.6,212.4L517.6,213.1L517.4,211.9L518.6,211.1L521.9,212.1L522.6,211.9L529.4,212.1L532.1,213.6L531.6,212.4L532.9,211.6L529.6,207.9L529.4,207.1L532.4,206.4L533.6,205.6L533.4,203.1L533.6,200.9L537.9,201.9L538.4,200.4L537.4,198.4L538.9,197.9L539.6,196.4L537.9,194.6L535.4,194.9L534.1,193.9L532.4,193.4L530.9,191.9L529.6,191.4L526.6,192.1L523.4,190.6L523.1,191.4L522.6,191.6L516.1,186.1L512.1,183.6L512.4,182.9L508.6,185.1L507.1,185.4L506.4,183.9L503.9,183.1L501.6,183.6L499.9,181.1L496.1,180.6L494.9,181.6L491.1,182.4L489.6,183.1L482.6,183.9L482.1,184.9L483.9,186.6L482.6,187.1L483.1,187.9L481.6,189.1L485.1,190.6L485.6,191.1L485.4,192.1L482.6,191.9L482.1,192.6L479.6,191.4L476.1,191.4L474.1,192.6L469.1,190.4L466.9,189.6L463.6,189.9L460.4,192.6L460.6,193.6L460.4,194.1L458.1,192.9Z"/>
<path fill="#4c6a9c" d="M636.6,212.1L636.6,213.4L633.9,214.9L634.9,215.9L633.1,216.1L631.6,215.1L631.4,217.1L629.6,218.4L628.9,219.9L629.1,220.4L630.9,220.9L631.9,221.6L632.1,222.9L632.6,223.4L632.1,223.9L632.1,224.9L633.9,226.1L634.6,225.4L635.4,225.6L636.6,225.4L637.1,224.4L638.6,224.1L639.1,223.6L638.1,222.6L636.9,222.1L636.1,220.9L636.4,220.1L637.9,219.4L638.1,218.4L639.1,217.6L638.1,215.9L638.1,214.9L638.6,214.1L639.4,214.1Z"/>
<path fill="#4c6a9c" d="M639.4,223.6L638.6,224.4L637.1,224.6L636.6,225.6L635.6,225.6L638.1,227.9L637.9,228.4L636.9,228.6L639.1,231.4L639.4,232.9L640.1,234.4L641.4,234.6L642.4,234.4L644.1,233.1L645.4,232.9L645.6,231.4L643.1,226.9Z"/>
<path fill="#fdb462" d="M532.6,232.1L531.1,234.4L528.4,234.6L525.4,233.9L524.9,234.9L527.1,238.6L529.4,240.4L527.9,241.9L528.4,243.6L526.4,246.9L525.6,249.4L523.6,251.9L521.1,251.9L519.1,254.4L520.9,255.4L521.4,257.6L522.9,258.9L523.6,261.1L523.4,261.4L518.4,261.4L517.4,263.1L520.4,265.4L520.9,266.1L519.9,267.1L523.1,270.4L524.9,270.6L527.4,269.1L528.1,269.4L528.6,271.1L528.9,274.9L530.1,277.9L531.1,282.6L534.1,287.1L535.4,291.9L537.9,295.9L539.9,301.9L542.4,304.1L543.1,303.6L543.6,302.1L544.4,301.4L545.9,300.9L545.1,299.9L545.9,298.4L547.1,297.9L546.9,293.1L547.6,291.1L547.6,290.1L546.6,285.9L546.9,283.9L547.9,283.1L550.6,282.1L551.1,281.6L551.1,280.4L554.9,276.9L556.6,274.1L560.1,271.9L560.9,270.6L560.6,269.6L560.9,268.6L562.9,268.1L564.9,268.1L564.4,265.4L563.1,263.1L563.1,261.4L561.6,260.6L563.4,258.9L561.4,257.4L561.9,255.6L562.4,255.4L565.1,256.6L565.9,258.1L566.6,258.6L571.4,259.1L571.6,259.9L571.1,261.6L569.9,262.4L569.6,263.4L570.6,264.1L570.6,263.1L571.6,262.9L573.6,266.9L574.1,266.6L573.6,265.6L574.1,264.6L573.9,261.9L574.4,261.6L575.6,262.1L576.4,260.6L576.1,258.6L577.1,256.9L576.6,255.4L579.4,253.1L580.9,253.6L580.4,252.6L580.9,251.6L580.6,250.9L579.1,250.6L578.4,250.1L578.9,249.4L577.4,247.6L576.1,248.9L574.1,248.1L572.4,249.4L570.1,251.9L568.9,252.1L569.9,252.9L570.1,253.9L569.9,254.9L565.6,254.6L564.4,255.1L562.1,253.9L562.1,252.6L561.6,251.4L560.6,251.9L560.6,253.1L561.4,254.4L561.1,255.9L558.6,255.9L554.6,255.1L553.1,253.9L549.6,253.4L541.6,249.4L542.1,246.9L543.1,245.6L540.1,244.1L537.4,242.1L536.1,239.6L536.4,239.4L537.6,239.6L537.4,238.4L536.1,237.1L535.9,234.9Z"/>
<path fill="#fdb462" d="M532.6,231.9L528.9,230.6L527.9,228.9L526.1,227.6L524.1,228.4L518.9,229.4L518.1,230.4L519.1,231.4L519.6,232.6L518.9,233.9L519.1,234.6L518.9,235.4L518.4,235.9L516.9,235.9L517.9,237.4L516.6,238.1L515.9,239.4L516.4,241.1L515.4,242.1L514.9,241.9L513.4,242.1L512.9,243.1L511.1,243.1L510.6,244.1L510.9,245.6L510.6,246.9L508.1,247.9L506.4,247.6L505.9,248.1L504.1,247.9L502.9,248.4L502.1,248.4L499.1,247.1L501.1,249.6L503.4,250.9L503.9,252.9L504.9,253.6L505.4,254.6L505.1,255.1L502.4,256.4L501.9,259.1L509.4,258.9L512.4,258.4L514.6,260.6L515.1,261.9L516.9,262.9L518.4,261.1L523.4,261.1L522.6,258.9L521.1,257.6L520.6,255.4L518.9,254.4L521.1,251.6L523.6,251.6L525.4,249.4L526.1,246.9L528.1,243.6L527.6,241.9L529.1,240.4L526.9,238.6L524.6,234.9L525.4,233.6L528.4,234.4L531.1,234.1Z"/>
<path fill="#fdb462" d="M525.4,226.9L521.4,226.9L520.4,227.9L519.4,228.1L518.9,228.9L517.4,227.6L517.1,225.6L516.6,225.6L516.4,224.6L515.4,224.1L514.9,224.9L514.6,226.4L514.4,226.6L513.4,226.4L512.9,227.6L511.9,227.1L510.6,228.1L509.4,227.4L506.1,227.1L505.1,226.6L504.9,227.4L503.4,227.9L503.4,229.6L502.6,230.4L500.6,231.1L500.4,232.4L498.4,232.6L496.6,231.6L496.1,236.4L497.1,236.9L496.4,238.4L497.9,241.6L498.4,242.1L499.6,242.4L500.4,244.1L498.6,246.6L502.1,248.1L504.1,247.6L505.9,247.9L506.4,247.4L508.1,247.6L510.6,246.6L510.4,244.1L510.9,243.1L512.9,242.9L513.4,241.9L514.4,241.6L515.4,241.9L516.1,241.1L515.6,239.4L516.1,238.4L517.6,237.4L516.6,235.9L518.6,235.4L518.9,234.9L518.6,233.9L519.4,232.6L518.9,231.4L517.9,230.4L518.4,229.6L519.6,228.9L524.9,227.9L525.6,227.4Z"/>
<path fill="#4c6a9c" d="M457.4,221.6L458.6,224.1L458.4,224.9L458.6,225.9L460.1,227.6L461.6,230.4L462.9,230.9L463.6,231.9L463.9,232.9L462.9,233.6L462.6,235.9L464.4,238.1L467.6,239.9L468.9,241.6L468.9,243.4L469.6,243.9L470.9,246.1L471.6,245.4L473.1,246.4L474.1,245.9L474.6,246.1L476.1,249.1L478.1,251.9L479.9,252.4L482.9,254.6L485.6,255.6L487.9,254.1L490.1,253.9L490.9,254.6L492.1,257.4L501.6,259.1L502.1,256.4L505.1,254.9L504.6,253.6L503.6,252.9L503.1,250.9L501.1,249.9L498.4,246.6L500.1,244.1L499.6,242.6L498.4,242.4L497.6,241.6L496.1,238.4L496.9,236.9L495.9,236.4L496.4,231.6L495.4,229.4L493.9,229.4L490.9,226.9L488.9,226.6L485.6,225.1L484.9,225.1L484.1,225.6L482.6,225.6L481.4,227.1L480.1,227.4L478.6,228.4L476.6,228.9L474.1,228.6L472.6,228.1L471.4,227.1L469.1,226.6L468.1,224.9L465.6,223.1L466.1,222.1L465.6,221.4L464.9,221.4L462.1,223.6L460.6,223.4L458.6,221.1Z"/>
<path fill="#ffffb3" d="M474.1,214.9L474.6,216.1L474.4,215.1L476.4,214.1L477.1,215.6L479.4,217.4L477.4,218.6L475.6,217.9L475.6,219.6L477.1,220.1L476.9,221.6L478.9,222.6L479.1,225.6L479.9,227.4L481.4,226.9L482.6,225.4L484.1,225.4L484.9,224.9L486.6,225.1L488.9,226.4L490.9,226.6L493.9,229.1L495.4,229.1L495.9,229.6L496.4,231.4L498.4,232.4L500.4,232.1L500.4,231.1L500.9,230.6L501.6,230.6L503.1,229.6L503.1,227.9L503.6,227.4L504.9,227.1L505.1,226.4L506.6,226.9L505.9,225.4L500.6,223.1L498.9,221.6L496.4,220.4L494.1,217.1L493.6,216.9L491.1,217.1L489.9,216.1L488.9,214.1L486.4,213.1L484.6,214.9L483.6,215.4L484.1,216.4L483.9,216.9L480.6,216.6L478.6,214.6L477.1,213.9L475.4,214.1Z"/>
<path fill="#fdb462" d="M478.9,206.9L481.6,216.6L483.9,216.6L483.4,215.4L484.6,214.6L486.1,212.9L488.4,213.6L489.6,214.6L490.4,216.4L491.1,216.9L492.4,216.6L494.1,216.9L496.4,220.1L498.9,221.4L500.6,222.9L505.9,225.1L506.6,225.9L506.9,226.9L510.4,227.4L510.1,224.9L509.4,223.4L507.4,222.1L507.9,220.9L509.6,220.6L510.4,217.9L513.1,217.1L513.6,219.1L516.1,219.4L517.9,217.9L515.6,216.6L514.1,217.1L511.9,215.9L512.9,214.4L512.1,214.4L509.4,216.4L508.9,218.1L508.1,218.1L507.4,216.9L504.6,216.9L503.6,215.1L502.4,214.6L501.9,212.1L498.6,210.1L494.6,210.4L492.9,210.9L490.1,208.4L484.1,205.4Z"/>
<path fill="#fdb462" d="M507.6,222.1L508.9,222.6L509.6,223.4L510.4,224.9L510.6,227.4L510.4,227.6L509.9,227.4L510.6,227.9L511.9,226.9L512.9,227.4L513.4,226.1L514.4,226.4L514.6,224.9L515.4,223.9L516.6,224.6L516.6,225.4L517.4,225.6L517.6,227.6L518.9,228.6L519.4,227.9L520.4,227.6L521.4,226.6L525.1,226.6L524.4,225.4L524.1,224.1L522.9,223.6L522.1,223.9L520.9,221.6L516.6,222.1L514.4,221.4L511.6,221.4L511.1,220.4L511.4,219.4L513.9,219.9L514.1,219.4L513.4,219.1L513.1,217.4L510.4,218.1L510.4,219.6L509.4,221.1L507.9,221.1Z"/>
<path fill="#e56e5a" d="M511.6,221.1L514.4,221.1L516.6,221.9L520.9,221.4L520.6,220.1L521.9,219.1L523.4,218.4L526.1,218.9L526.6,217.1L528.9,216.9L529.6,215.6L531.9,214.6L532.4,213.9L529.4,212.4L527.6,212.1L521.9,212.4L518.9,211.4L517.6,211.9L517.9,212.9L517.6,213.4L513.6,212.6L512.9,212.9L512.6,214.1L513.1,214.6L512.1,215.9L514.1,216.9L515.6,216.4L517.9,217.4L518.1,217.9L516.1,219.6L514.4,219.4L513.9,220.1L511.4,219.6Z"/>
<path fill="#fdb462" d="M542.4,246.9L541.9,249.4L549.6,253.1L553.1,253.6L554.6,254.9L558.6,255.6L561.1,255.6L561.1,254.4L560.4,253.1L560.4,251.9L557.4,251.6L555.6,251.1L553.4,249.9L551.1,249.4L550.1,248.1L544.4,245.1Z"/>
<path fill="#ffffb3" d="M562.4,253.1L562.4,253.9L564.4,254.9L565.6,254.4L569.9,254.6L569.6,252.9L567.4,251.4L565.9,251.4L564.6,250.6L563.1,251.6Z"/>
<path fill="#ffffb3" d="M562.1,255.6L561.6,257.4L563.6,258.9L561.9,260.6L563.4,261.4L563.4,263.1L564.6,265.4L565.1,267.4L565.4,267.1L566.6,267.6L567.1,267.1L567.9,267.6L568.4,266.6L568.1,265.4L568.4,265.1L570.1,265.4L571.6,267.1L572.9,270.6L572.4,268.6L572.6,268.4L573.4,268.6L573.1,268.1L573.4,266.9L571.6,263.1L570.9,263.1L570.6,264.4L569.4,263.4L569.6,262.4L570.9,261.6L571.4,259.4L566.6,258.9L565.6,258.1L565.1,256.9Z"/>
<path fill="#e56e5a" d="M580.9,250.9L581.1,251.6L580.6,252.4L580.9,253.4L580.6,253.6L579.4,253.4L576.9,255.4L577.4,256.9L576.4,258.6L576.6,260.6L575.6,262.4L574.1,261.9L574.4,264.6L573.9,265.6L574.4,266.6L573.4,267.1L573.6,268.6L573.4,268.9L572.6,268.6L573.1,270.9L575.1,272.9L576.4,273.6L576.6,274.6L578.9,277.9L579.4,279.4L578.9,282.9L580.4,283.6L581.9,283.9L585.4,280.6L586.6,282.4L588.4,288.9L589.9,290.6L589.9,293.9L590.6,295.1L590.1,297.6L590.6,298.6L591.1,296.1L592.4,293.9L591.1,291.6L590.9,289.4L588.1,285.4L588.9,284.9L589.4,282.6L588.6,281.1L586.4,278.6L585.1,276.6L586.1,276.1L586.6,273.4L588.6,272.9L589.9,271.6L590.6,271.4L590.9,270.6L592.9,268.4L592.6,267.6L591.1,268.4L588.4,266.9L588.6,264.9L587.6,264.6L586.9,263.9L586.1,261.9L584.4,262.4L583.9,262.1L583.6,259.1L585.1,256.9L584.9,254.6L584.4,252.9L583.4,252.4L582.1,250.6ZM580.6,253.6L580.9,253.4L581.1,253.6L580.9,253.9Z"/>
<path fill="#38aaba" d="M590.4,271.6L588.6,273.1L586.9,273.4L586.4,276.1L585.4,276.6L586.6,278.6L588.9,281.1L589.6,282.6L589.1,284.9L588.4,285.4L590.9,288.9L591.4,290.1L591.4,291.6L592.6,293.9L591.1,296.9L589.9,303.4L590.4,304.6L590.4,303.9L590.9,303.4L592.4,304.9L594.4,307.9L595.1,307.4L597.4,308.9L597.4,309.9L598.6,309.6L599.1,308.6L598.1,307.4L596.9,307.1L595.4,305.6L594.9,303.1L593.9,300.9L592.4,300.9L591.9,299.9L593.4,293.4L593.4,290.1L595.1,289.9L595.4,290.1L595.1,291.9L597.1,291.9L599.1,292.9L598.4,289.9L599.9,287.6L602.1,287.1L604.9,287.4L605.4,286.4L605.1,284.1L602.9,281.9L602.4,279.4L600.6,277.4L599.1,277.4L598.6,278.1L597.1,278.4L596.4,277.9L594.1,279.4L593.6,277.9L593.6,274.1L592.4,274.1L591.9,272.4Z"/>
<path fill="#38aaba" d="M605.4,266.9L606.9,267.9L610.9,268.4L610.6,267.4ZM593.6,266.4L594.4,269.1L593.4,269.4L592.9,268.9L591.1,270.6L590.9,271.4L592.1,272.4L592.4,273.9L593.9,274.1L594.1,279.1L596.4,277.6L597.1,278.1L598.6,277.9L599.1,277.1L600.6,277.1L602.6,279.4L603.1,281.9L605.4,284.1L605.6,286.4L605.1,287.4L606.9,288.4L607.9,286.6L609.6,287.4L609.6,284.9L608.9,283.4L606.6,281.4L603.1,276.4L599.9,274.4L600.9,273.1L601.6,272.9L600.6,270.9L597.9,270.9L594.6,266.1Z"/>
<path fill="#e56e5a" d="M609.6,287.6L607.9,286.9L606.9,288.6L605.1,287.6L603.6,287.4L600.6,287.6L599.6,288.1L598.6,290.4L599.4,293.1L600.6,295.6L601.9,297.1L603.6,297.6L605.9,296.4L607.6,296.1L606.9,294.9L610.4,292.6L610.4,289.4Z"/>
<path fill="#ffffb3" d="M612.4,269.6L613.1,271.6L613.6,271.9L613.4,269.9ZM601.6,263.9L599.9,265.1L595.9,265.4L594.9,266.1L597.9,270.6L600.6,270.6L601.9,272.9L600.9,273.4L600.1,274.4L603.4,276.4L606.9,281.4L609.1,283.4L609.9,284.9L609.9,288.1L610.6,289.4L610.6,292.6L607.1,294.9L607.9,295.9L607.6,296.4L605.9,296.6L603.9,297.6L605.6,299.1L605.1,300.9L606.1,302.6L609.4,299.6L610.9,297.6L614.9,294.6L614.6,289.6L613.1,284.9L611.1,282.6L608.6,281.1L604.1,275.1L604.4,273.1L605.6,270.9L608.9,268.4L606.1,267.9L604.9,266.6L605.1,265.1L602.9,264.6Z"/>
<path fill="#4c6a9c" d="M595.1,307.6L594.6,308.1L595.4,309.4L595.1,311.4L595.9,312.6L596.4,314.9L597.9,316.6L598.1,317.9L603.1,321.9L604.9,321.9L604.9,320.6L602.9,317.1L602.4,311.9L600.1,309.1L599.4,308.9L598.6,309.9L597.4,310.1L597.1,308.9Z"/>
<path fill="#4c6a9c" d="M440.4,248.4L440.1,251.4L441.6,251.6L444.4,255.6L444.9,256.9L446.1,258.1L447.1,261.1L449.9,262.9L451.4,265.9L451.1,267.6L451.9,269.6L453.1,271.4L454.1,271.9L456.1,273.9L457.9,278.1L459.4,279.1L459.6,280.4L460.6,281.9L461.4,281.4L461.1,279.9L461.9,278.6L462.9,279.4L463.4,279.1L466.4,279.1L467.9,279.6L469.6,279.4L470.6,280.4L471.4,279.9L472.4,277.6L474.9,275.9L481.6,274.9L487.6,272.6L488.1,271.9L488.9,267.9L488.1,266.1L480.6,264.9L479.1,262.4L479.1,261.4L477.1,260.1L476.6,258.6L475.9,257.9L475.4,254.9L474.1,254.1L473.4,252.9L471.9,251.9L471.1,250.4L469.4,250.4L466.9,248.9L462.4,248.6L455.4,243.1L452.4,241.6L449.6,240.9L447.1,241.6L445.6,242.6L445.6,243.1L447.4,244.9L446.6,245.4L446.1,246.4L444.9,246.6L444.4,247.6L443.1,248.6L441.1,248.1Z"/>
<path fill="#4c6a9c" d="M418.6,221.4L420.1,222.6L419.4,224.6L421.4,226.4L422.4,228.4L424.9,228.6L427.1,230.1L428.6,229.9L429.4,228.6L431.4,228.9L433.4,230.1L436.6,229.9L437.9,228.4L440.4,228.9L440.6,229.1L440.4,229.6L441.4,230.6L442.1,229.9L442.4,228.1L443.1,228.6L445.1,227.9L446.4,228.4L448.6,228.4L450.6,227.4L452.4,227.4L455.1,226.6L457.9,226.9L458.6,227.6L459.4,227.4L458.1,225.4L458.4,224.1L457.1,221.6L458.4,220.9L457.6,220.1L455.9,219.6L455.1,217.1L453.1,216.1L450.4,216.1L448.4,217.4L447.4,217.1L443.9,217.4L440.6,216.4L437.1,214.6L433.1,214.6L431.1,215.4L428.9,217.1L424.6,216.9L423.9,218.9L420.9,218.9ZM440.4,228.9L440.6,228.6L440.9,228.9L440.6,229.1ZM424.1,216.6L422.6,215.9L421.9,214.9L419.6,214.6L418.4,215.1L419.1,215.9L418.4,217.9L418.9,219.6L421.4,217.4L423.9,217.1Z"/>
<path fill="#fdb462" d="M467.1,248.9L468.9,249.6L468.6,249.1ZM454.6,227.1L453.9,228.9L452.6,229.6L453.1,231.1L452.9,234.6L448.4,237.4L449.6,240.6L452.4,241.4L455.4,242.9L462.4,248.4L466.4,248.6L468.1,245.9L470.9,246.4L469.4,243.9L468.6,243.4L468.6,241.6L467.4,239.9L464.4,238.4L462.4,235.9L462.6,233.6L463.6,232.9L463.1,231.4L461.4,230.4L459.6,227.4L458.6,227.9L457.9,227.1L456.6,226.9Z"/>
<path fill="#e56e5a" d="M454.4,227.1L452.4,227.6L450.6,227.6L448.6,228.6L446.4,228.6L445.1,228.1L443.1,228.9L442.4,228.4L442.4,229.9L440.9,231.9L441.1,233.6L442.4,233.9L443.1,235.1L441.9,236.6L441.6,238.9L444.1,239.9L447.6,237.4L449.1,236.9L452.4,234.9L452.9,232.9L452.9,231.1L452.4,229.6L453.6,228.9Z"/>
<path fill="#ffffb3" d="M448.1,237.4L444.1,240.1L441.6,239.1L441.4,239.6L441.6,240.9L441.4,244.4L440.6,247.9L443.1,248.4L444.1,247.6L444.1,247.1L444.9,246.4L446.1,246.1L446.4,245.4L447.1,244.9L445.4,243.1L445.4,242.6L446.6,241.6L449.4,240.6Z"/>
<path fill="#fdb462" d="M442.4,234.1L441.4,234.1L440.6,235.6L440.1,237.9L441.4,237.4L441.9,236.1L442.9,235.1Z"/>
<path fill="#fdb462" d="M468.1,246.1L466.6,248.6L468.6,248.9L469.4,250.1L471.1,250.1L470.1,248.4L470.1,247.4L469.6,246.6L470.4,246.4Z"/>
<path fill="#fdb462" d="M478.1,256.4L477.4,257.1L476.9,259.1L477.4,260.1L478.9,260.6L479.1,258.4Z"/>
<path fill="#e56e5a" d="M489.6,257.9L488.6,256.9L484.9,261.6L479.9,261.9L478.9,260.9L479.4,261.4L479.4,262.4L480.4,264.4L481.4,264.9L487.6,265.9L487.9,265.6L487.6,264.1L488.1,263.4L488.1,262.1L489.1,261.6L488.6,261.4L488.6,259.6L489.9,259.4Z"/>
<path fill="#38aaba" d="M490.1,259.4L488.9,259.6L488.9,261.4L489.4,261.6L488.4,262.1L488.4,263.4L487.9,264.1L487.9,265.4L489.1,267.4L488.1,272.4L487.6,272.9L481.6,275.1L484.6,281.1L485.6,281.1L486.9,280.4L488.1,280.6L489.1,280.1L489.4,278.6L490.1,278.1L491.4,278.1L492.6,275.9L493.4,275.4L494.4,275.4L494.6,275.1L494.1,273.6L494.4,271.9L494.9,271.4L495.9,271.4L496.6,269.6L498.1,267.6L498.4,265.9L497.6,265.6L495.6,263.1L494.6,262.6L492.6,262.4L491.9,261.9L490.4,260.1ZM489.6,255.6L488.9,256.6L489.4,257.6L489.9,257.1Z"/>
<path fill="#fdb462" d="M481.4,275.1L475.9,275.9L474.4,276.4L472.6,277.6L471.6,279.9L470.6,280.6L469.6,279.6L469.1,279.9L466.4,279.4L462.9,279.6L461.9,278.9L461.4,279.9L461.6,281.4L460.6,282.1L460.9,284.9L460.4,285.1L461.9,287.9L462.1,290.6L462.6,291.6L463.9,292.1L465.1,291.6L466.4,291.9L467.6,290.1L470.4,289.9L472.9,288.4L474.6,288.4L476.6,286.4L479.6,285.6L482.1,284.4L482.6,282.6L483.4,281.9L484.9,281.4L484.1,280.9Z"/>
<path fill="#38aaba" d="M446.4,210.9L447.4,211.9L448.6,212.1L450.1,213.1L450.9,214.6L450.9,215.9L453.1,215.9L454.9,216.9L457.4,216.6L458.6,216.1L460.1,216.9L461.6,216.9L460.1,215.4L460.6,215.1L459.4,214.6L458.9,213.6L458.1,213.1L456.4,212.9L455.4,213.4L451.9,211.6L448.4,211.1L447.1,210.6Z"/>
<path fill="#ffffb3" d="M458.4,216.6L459.9,217.9L459.6,218.4L460.9,219.4L460.4,220.1L462.6,221.4L462.9,222.9L464.9,221.1L465.6,221.1L466.4,221.9L465.9,223.1L467.9,224.4L467.6,223.1L468.4,221.9L468.4,219.4L469.9,219.1L468.4,218.6L465.6,215.4L464.1,216.9L463.4,216.9L461.6,215.1L460.4,215.4L461.9,216.9L461.6,217.1L460.1,217.1L458.9,216.4Z"/>
<path fill="#fdb462" d="M455.4,217.1L455.9,218.1L455.9,219.4L458.9,220.4L459.9,221.1L460.6,221.1L461.4,221.9L462.1,223.4L462.6,223.1L462.4,221.4L460.1,220.1L460.6,219.4L459.4,218.4L459.6,217.9L458.1,216.6Z"/>
<path fill="#ffffb3" d="M458.6,220.6L458.9,221.4L460.4,222.9L461.9,223.4L460.6,221.4L459.9,221.4Z"/>
<path fill="#38aaba" d="M378.9,181.9L379.6,183.9L378.4,185.1L378.1,184.6L376.4,184.9L376.6,185.9L376.4,188.4L375.6,189.6L374.6,189.6L375.1,191.6L375.4,195.4L375.9,195.9L378.1,196.1L379.1,196.6L378.1,198.4L378.1,199.9L379.4,198.9L379.6,199.6L380.1,199.4L383.9,200.6L384.1,200.1L386.1,200.1L387.1,199.6L388.9,200.1L388.4,198.4L389.4,197.9L389.9,196.9L387.4,194.9L386.9,193.4L388.6,192.6L389.1,191.9L391.4,191.1L391.4,188.6L390.9,187.4L389.9,186.6L390.4,185.9L389.9,184.4L387.1,182.9L385.9,183.6L384.1,183.9L383.9,183.1L382.1,182.6L381.6,181.9L380.9,182.1Z"/>
<path fill="#38aaba" d="M379.4,199.1L378.4,199.9L379.4,199.9ZM353.1,197.4L353.1,199.4L355.9,200.1L357.1,200.9L359.9,204.4L359.6,209.4L358.6,210.6L358.6,211.1L359.4,211.9L362.9,212.9L364.1,212.4L366.4,213.6L368.6,213.4L368.9,212.1L369.6,211.6L372.6,211.1L376.1,211.9L377.9,210.6L377.9,209.4L376.9,208.9L376.1,207.1L376.9,206.1L376.4,205.4L376.4,204.4L375.9,203.6L375.4,203.9L374.6,203.6L374.6,202.4L376.1,201.1L376.4,200.1L377.4,200.4L377.9,199.9L377.9,198.4L378.9,196.6L375.9,196.1L375.4,195.6L374.9,196.1L372.1,194.4L371.1,194.6L370.4,193.9L369.1,193.6L368.6,192.4L367.9,192.4L367.1,191.1L365.6,191.6L365.4,193.1L364.6,194.1L360.6,195.9L358.6,194.6L359.1,197.1L358.9,197.6L356.1,196.9Z"/>
<path fill="#fdb462" d="M443.9,199.4L443.9,198.6L443.1,197.4L443.6,195.1L440.9,194.4L439.1,194.4L437.6,193.1L436.4,193.6L433.6,192.6L432.4,191.1L431.1,190.9L430.6,190.4L430.9,189.6L429.4,188.1L426.6,188.4L425.6,189.1L423.9,189.1L423.6,190.9L423.1,190.6L420.9,190.9L420.4,190.4L419.9,190.6L416.9,190.4L415.1,189.6L411.4,189.6L410.1,190.1L409.9,190.6L410.9,192.4L410.9,193.1L409.6,193.6L408.6,194.9L408.4,195.6L408.9,196.6L408.6,196.9L408.4,196.6L407.6,197.9L408.9,199.1L409.6,198.6L412.6,199.1L413.4,199.6L415.9,198.4L418.9,197.9L420.1,198.6L421.1,198.6L422.4,199.6L422.4,200.4L423.1,200.9L424.6,203.4L424.4,203.6L422.4,203.4L422.6,203.6L421.6,205.6L424.4,205.9L425.6,203.4L426.1,202.9L427.6,202.6L428.1,203.6L430.4,203.9L432.1,204.6L430.1,205.6L429.9,206.1L431.9,206.6L432.4,207.1L432.1,208.1L433.1,208.6L435.9,207.1L438.1,206.6L438.4,205.6L437.4,205.9L435.6,205.6L434.9,204.9L434.6,203.9L434.9,203.4L436.4,202.6L438.4,202.6L439.4,201.6L441.1,201.6L440.9,200.9L441.1,200.1L441.9,199.6Z"/>
<path fill="#4c6a9c" d="M408.6,184.4L409.9,187.1L409.6,187.6L408.9,187.9L409.6,190.1L411.4,189.4L415.1,189.4L416.9,190.1L419.4,190.4L420.4,190.1L420.9,190.6L421.9,190.4L423.6,190.6L423.4,189.4L423.9,188.9L425.6,188.9L424.4,186.4L426.1,186.1L426.9,185.6L426.1,184.9L424.9,184.6L422.4,181.9L422.6,181.1L422.1,180.1L420.6,179.6L419.1,179.9L418.6,179.1L417.1,178.6L413.9,180.1L414.1,181.1L412.9,181.9L412.4,183.6L410.6,184.4Z"/>
<path fill="#fdb462" d="M390.1,184.6L390.6,185.6L390.1,186.6L391.1,187.4L391.6,188.6L391.6,191.4L392.4,191.1L393.6,191.9L395.1,192.1L395.4,192.4L395.1,192.9L395.9,193.4L396.4,192.6L397.9,192.9L398.4,193.6L399.6,193.9L400.9,195.4L401.6,194.9L402.9,195.9L403.6,195.4L405.1,195.6L406.4,195.1L408.6,196.6L408.1,195.6L408.4,194.9L409.6,193.4L410.6,193.1L410.6,192.4L408.6,188.4L408.6,187.9L409.6,187.1L408.4,184.4L407.4,183.4L398.9,182.9L398.1,182.1L396.4,181.9L392.4,183.4Z"/>
<path fill="#ffffb3" d="M402.9,179.1L403.6,180.9L403.4,181.1L406.4,181.6L406.6,182.9L407.9,183.4L408.4,184.1L410.6,184.1L412.4,183.4L412.6,181.9L413.9,181.1L413.4,179.9L411.9,179.1L410.4,178.9L409.9,178.4L409.1,178.6L404.9,178.4Z"/>
<path fill="#fdb462" d="M416.6,178.6L415.1,175.6L414.6,175.4L412.6,175.6L410.4,174.4L408.6,174.9L408.4,176.1L407.6,176.6L406.9,176.6L405.1,174.6L403.6,175.4L402.9,176.9L402.9,178.9L404.9,178.1L406.9,178.4L409.9,178.1L410.4,178.6L411.9,178.9L414.1,179.9Z"/>
<path fill="#ffffb3" d="M406.1,171.1L406.6,172.6L407.9,172.9L408.4,173.4L408.6,174.6L410.4,174.1L412.6,175.4L414.4,175.4L414.9,174.6L413.9,172.6L414.6,170.6L412.4,170.6L410.1,170.1Z"/>
<path fill="#ffffb3" d="M408.9,146.1L406.9,146.6L406.1,148.1L404.4,149.4L402.9,148.9L400.1,148.9L398.4,147.9L397.9,148.1L402.4,150.1L402.9,150.6L403.9,154.6L404.6,155.4L406.4,155.9L407.1,156.9L406.9,157.4L405.6,157.9L402.9,159.9L401.1,161.6L400.6,162.9L401.9,165.1L401.6,167.6L403.6,168.4L404.9,169.6L408.4,169.1L410.6,168.4L414.4,168.1L418.9,163.6L419.4,162.6L419.1,162.1L416.4,160.6L416.6,159.4L414.6,157.6L415.4,155.6L412.6,152.9L413.9,151.4L410.9,149.6L410.4,148.1L410.9,146.9Z"/>
<path fill="#4c6a9c" d="M397.6,148.1L396.6,148.4L396.4,149.9L393.1,149.6L392.6,150.9L391.1,150.9L389.1,154.6L386.6,157.9L387.4,158.6L386.9,159.6L385.1,159.9L384.1,161.6L384.6,164.9L385.9,166.1L385.4,168.9L383.9,170.9L383.4,172.6L386.1,177.4L387.4,180.6L389.6,180.4L390.6,178.6L392.9,178.9L393.9,176.6L394.1,172.6L396.1,171.6L397.4,169.1L393.9,166.1L394.6,162.6L400.1,159.1L400.4,158.6L399.9,157.4L401.4,155.9L404.1,155.1L403.4,154.1L402.6,150.6Z"/>
<path fill="#4c6a9c" d="M414.4,145.1L409.1,143.6L402.9,143.9L400.9,145.6L397.9,145.6L395.1,146.4L388.6,150.4L387.1,151.6L384.6,154.9L380.6,159.1L377.9,161.1L373.1,163.1L371.6,164.6L372.1,169.1L373.1,172.6L375.6,173.9L376.4,173.9L378.6,173.1L381.9,170.6L383.1,172.1L383.6,170.9L385.1,168.9L385.6,166.1L384.4,164.9L383.9,161.6L385.1,159.6L386.6,159.6L387.1,158.6L386.4,157.9L388.9,154.6L389.9,152.4L391.1,150.6L392.6,150.6L393.1,149.4L396.4,149.6L396.4,148.4L398.1,147.6L400.1,148.6L402.9,148.6L404.4,149.1L405.9,148.1L406.1,147.1L406.9,146.4L408.4,145.9L410.6,146.4L411.1,146.9L410.6,148.1L411.4,148.1L414.6,147.1L412.9,145.9L413.1,145.4Z"/>
<path fill="#4c6a9c" d="M382.4,174.9L381.1,175.4L380.4,176.1L378.6,176.4L377.9,177.4L378.1,180.4L378.9,181.6L379.9,181.9L381.6,181.6L381.1,180.4L382.4,178.6L382.9,178.9L383.4,177.9L382.1,177.1L382.6,176.1Z"/>
<path fill="#4c6a9c" d="M368.9,192.6L369.1,193.4L369.6,193.4ZM376.1,185.1L375.9,185.4L374.1,185.1L371.6,186.4L370.1,189.9L369.4,190.4L370.9,190.6L372.4,190.1L374.9,191.9L374.4,189.6L375.6,189.4L376.4,187.1Z"/>
<path fill="#4c6a9c" d="M375.1,194.9L374.9,195.9L375.1,195.9ZM367.4,191.1L367.9,192.1L368.6,192.1L371.1,194.4L372.1,194.1L373.6,195.1L374.1,193.6L375.1,194.1L374.6,193.6L374.9,192.1L372.4,190.4L370.9,190.9L368.9,190.6Z"/>
<path fill="#ffffb3" d="M374.1,193.9L373.9,195.4L374.6,195.6L375.1,194.4Z"/>
<path fill="#4c6a9c" d="M383.6,202.4L381.6,201.6L381.9,200.4L379.9,199.6L379.4,200.1L377.6,200.1L377.4,200.6L376.4,200.4L376.4,201.1L374.9,202.4L374.9,203.6L375.9,203.4L376.4,204.1L378.6,204.6L379.6,203.6L380.1,204.1L380.9,204.1L381.4,202.9L383.1,203.4L383.6,203.1Z"/>
<path fill="#4c6a9c" d="M396.6,197.6L396.1,197.4L394.9,197.6L393.1,196.9L391.6,198.1L389.9,197.1L389.6,197.9L388.6,198.4L389.1,199.9L388.9,200.4L387.9,199.9L386.1,200.4L384.1,200.4L383.9,200.9L382.1,200.4L381.9,201.6L384.9,202.1L385.4,201.6L387.4,201.1L387.9,202.1L392.6,203.1L393.6,202.4L395.6,202.1L396.1,200.6L395.6,199.9L396.9,199.6Z"/>
<path fill="#4c6a9c" d="M387.1,193.4L387.6,194.9L391.6,197.9L393.1,196.6L394.9,197.4L395.9,197.1L396.6,197.4L397.1,196.9L398.4,196.9L399.9,195.1L400.4,195.1L399.6,194.1L398.4,193.9L397.9,193.1L396.4,192.9L395.9,193.6L394.9,192.9L395.1,192.4L393.6,192.1L392.4,191.4L389.6,191.9L388.6,192.9Z"/>
<path fill="#ffffb3" d="M396.9,198.4L398.1,199.4L399.9,199.6L401.4,198.6L403.1,198.4L404.6,197.4L407.1,198.1L408.1,196.4L406.4,195.4L405.1,195.9L403.6,195.6L402.9,196.1L401.6,195.1L400.9,195.6L399.9,195.4L398.4,197.1L397.1,197.1Z"/>
<path fill="#fdb462" d="M408.9,199.4L408.4,198.6L407.4,198.1L406.9,198.4L405.1,197.6L403.1,198.6L401.4,198.9L399.9,199.9L398.1,199.6L397.1,198.9L396.9,199.9L395.9,199.9L396.4,200.4L395.9,201.9L396.4,202.1L396.6,202.9L398.4,203.9L400.9,204.6L402.9,203.6L404.6,203.9L405.9,203.4L407.4,200.1Z"/>
<path fill="#38aaba" d="M376.6,204.4L376.6,205.4L377.1,206.1L376.4,207.1L377.1,208.9L378.1,209.4L378.1,210.4L380.9,208.6L383.4,209.4L384.1,210.1L384.6,212.4L388.4,215.9L389.9,216.6L391.4,216.9L392.4,217.9L393.9,218.4L394.4,219.4L395.6,220.1L397.1,222.6L396.4,223.9L396.4,225.4L397.4,225.1L398.1,223.4L399.1,222.9L399.4,221.4L397.6,220.4L398.6,218.9L400.4,219.1L401.6,220.4L401.9,219.6L400.9,218.4L396.4,215.9L396.9,215.4L396.6,215.1L394.6,214.9L391.9,212.6L391.1,210.9L388.6,209.1L388.1,208.1L388.1,206.1L389.6,205.1L391.1,205.4L390.6,204.6L390.4,202.9L387.9,202.4L387.1,201.4L385.4,201.9L384.9,202.4L383.9,202.1L383.9,203.1L383.1,203.6L381.4,203.1L380.9,204.4L380.1,204.4L379.6,203.9L378.6,204.9L377.6,204.9Z"/>
<path fill="#4c6a9c" d="M396.1,202.1L395.4,202.6L393.6,202.6L392.6,203.4L390.9,203.1L391.1,205.1L391.4,205.4L392.9,205.1L394.1,205.6L393.9,205.1L394.6,204.6L394.9,203.6L396.4,202.9Z"/>
<path fill="#fdb462" d="M404.6,204.1L406.4,205.9L407.4,206.4L407.6,207.6L408.6,208.1L409.4,207.4L410.1,208.1L409.9,208.6L410.6,209.9L412.1,209.6L416.1,210.1L417.1,209.4L419.4,208.9L421.1,209.9L422.4,210.1L422.6,207.4L422.9,207.1L423.4,207.4L424.1,206.9L424.1,206.1L423.6,205.9L422.1,206.1L420.6,205.4L420.1,202.4L418.1,199.9L416.6,198.6L415.9,198.6L413.4,199.9L412.6,199.4L409.6,198.9L408.9,199.6L407.6,200.1L406.1,203.4Z"/>
<path fill="#38aaba" d="M417.1,198.4L416.9,198.6L418.4,199.9L420.4,202.4L420.6,204.9L421.1,205.6L421.6,205.4L422.6,203.4L424.4,203.4L422.9,200.9L422.1,200.4L422.1,199.6L421.6,199.1L420.1,198.9L418.9,198.1ZM422.1,203.4L422.4,203.1L422.6,203.4L422.4,203.6Z"/>
<path fill="#4c6a9c" d="M390.9,205.6L390.9,206.6L391.6,207.4L392.1,206.4L393.1,206.6L394.6,208.6L394.1,208.9L396.1,210.9L398.1,211.6L399.9,212.9L401.1,213.4L401.4,213.1L399.6,212.4L398.9,211.1L397.9,210.6L395.1,207.4L395.6,206.1L396.4,206.6L396.9,206.1L398.1,206.1L399.4,206.6L401.1,206.4L402.1,207.1L402.6,206.4L401.1,204.6L400.9,204.9L399.4,204.6L396.4,203.1L395.1,203.6L394.9,204.6L393.9,205.6L392.9,205.4ZM393.9,205.6L394.1,205.4L394.4,205.6L394.1,205.9Z"/>
<path fill="#38aaba" d="M401.4,204.6L402.9,206.4L402.4,206.9L403.1,207.4L402.6,208.4L403.9,209.4L403.4,210.9L405.4,212.1L406.1,211.1L408.6,212.9L408.4,213.9L409.9,213.6L409.6,212.9L410.6,211.6L409.1,209.9L409.9,208.1L409.4,207.6L408.6,208.4L407.6,207.9L407.1,206.4L406.4,206.1L404.4,204.1L402.9,203.9Z"/>
<path fill="#ffffb3" d="M395.6,206.4L395.4,207.4L397.9,210.4L399.1,211.1L399.6,212.1L401.4,212.9L401.6,211.6L402.9,210.6L403.4,210.6L403.6,209.4L402.4,208.4L402.9,207.4L402.1,207.4L401.1,206.6L399.4,206.9L398.1,206.4L396.9,206.4L396.4,206.9Z"/>
<path fill="#ffffb3" d="M402.9,210.9L401.9,211.6L401.4,213.4L403.4,214.9L403.1,214.1L404.1,212.6L404.6,213.1L405.4,212.4Z"/>
<path fill="#ffffb3" d="M409.4,209.6L409.6,210.4L410.9,211.6L410.1,212.4L409.9,213.4L411.1,214.6L411.6,216.1L413.1,216.4L414.6,215.6L415.9,216.4L417.6,216.1L417.9,214.9L418.1,215.1L419.6,214.4L421.9,214.6L420.9,212.9L421.4,211.4L422.4,210.4L421.1,210.1L419.4,209.1L417.1,209.6L416.1,210.4L412.1,209.9L410.6,210.1L409.9,208.9Z"/>
<path fill="#4c6a9c" d="M417.9,215.1L417.9,216.1L416.9,216.6L415.9,216.6L414.4,215.9L413.1,216.6L411.6,216.4L410.6,217.4L409.4,217.1L406.9,218.9L406.9,219.6L405.6,221.1L408.1,224.4L409.4,227.9L411.4,229.4L412.9,229.4L411.9,227.4L413.1,226.6L412.6,225.9L413.4,225.6L414.6,226.1L414.4,224.6L413.4,224.1L411.9,222.6L412.6,222.1L411.4,220.9L410.9,219.1L411.4,218.9L412.4,220.1L413.9,220.1L414.6,219.6L413.4,218.1L416.1,217.4L417.9,217.9L418.6,219.4L418.1,217.9L418.9,215.9Z"/>
<path fill="#38aaba" d="M404.1,212.9L403.4,214.1L403.9,215.4L403.6,218.6L403.9,219.4L404.9,219.9L405.6,220.9L406.6,219.6L406.6,218.9L407.4,218.1L406.1,217.1L405.6,216.1L405.9,215.4L405.6,214.1Z"/>
<path fill="#ffffb3" d="M410.4,214.1L408.6,213.9L408.1,214.4L406.9,214.6L405.9,215.6L406.4,217.1L407.4,217.9L408.6,217.6L409.4,216.9L410.6,217.1L411.4,216.1Z"/>
<path fill="#4c6a9c" d="M342.6,212.1L343.4,213.1L343.4,214.9L344.9,213.9L345.6,215.1L346.6,215.1L347.6,214.6L348.4,214.9L349.1,216.1L348.1,217.1L347.6,220.6L346.6,221.1L347.4,222.4L346.9,223.9L347.4,225.1L346.4,226.6L346.4,227.6L347.9,227.9L349.1,229.9L350.4,230.6L352.9,228.6L357.6,228.6L359.4,226.6L360.9,226.1L361.4,224.4L362.6,223.4L361.9,221.6L363.1,218.9L364.6,217.1L366.4,216.9L368.9,215.1L368.6,213.6L366.4,213.9L364.1,212.6L362.9,213.1L359.9,212.4L358.4,211.1L356.6,210.9L352.9,211.1L351.6,210.6L347.6,210.6L345.6,210.1Z"/>
<path fill="#4c6a9c" d="M344.9,214.1L343.4,215.1L343.6,218.1L343.1,219.4L343.1,220.6L342.1,221.6L341.9,222.6L342.1,224.1L343.4,224.6L343.1,228.1L343.9,227.9L345.4,228.1L346.1,227.6L346.1,226.6L347.1,225.1L346.6,224.1L347.1,222.4L346.4,221.1L347.4,220.6L347.9,217.1L348.9,216.4L348.4,215.1L347.1,214.9L346.6,215.4L345.6,215.4Z"/>
<path fill="#38aaba" d="M347.9,181.1L348.4,182.4L347.9,183.6L350.6,184.1L351.4,182.6L349.4,181.1ZM353.1,172.6L351.4,174.6L350.6,176.9L351.6,178.4L351.6,180.6L352.6,179.6L353.4,180.1L352.6,181.4L352.9,181.9L355.4,182.4L356.4,183.6L356.6,184.6L356.1,185.6L353.4,185.4L352.9,186.9L353.9,188.4L351.9,189.4L352.4,190.1L353.9,190.1L354.9,190.6L350.9,193.6L351.9,194.1L353.4,193.1L355.1,193.6L356.4,192.4L357.9,192.9L360.4,192.1L364.1,191.9L365.4,190.9L364.6,189.6L365.6,188.9L365.6,187.1L363.4,186.6L361.6,182.9L360.1,182.1L358.4,179.4L356.6,178.9L358.1,176.9L358.6,174.9L355.9,174.9L355.6,175.1L354.9,174.9L356.9,172.6L355.6,172.9Z"/>
<path fill="#4c6a9c" d="M347.6,181.1L343.4,184.4L344.4,186.9L342.6,189.4L345.6,189.9L348.9,188.4L350.6,186.1L350.4,184.4L347.6,183.6L348.1,182.9Z"/>
<path fill="#4c6a9c" d="M338.4,157.1L336.6,155.6L337.1,154.1L334.1,153.9L331.6,155.1L329.1,154.4L326.4,155.9L324.4,154.4L323.4,154.1L321.1,154.6L319.6,156.1L322.4,156.4L323.4,156.9L323.1,157.4L320.1,157.6L323.4,158.9L321.9,159.9L327.9,160.9L330.9,160.6L335.4,159.1Z"/>
<path fill="#4c6a9c" d="M393.4,129.1L394.4,129.6L393.6,130.1L395.9,130.6L399.4,129.9L397.1,129.4L396.4,128.6ZM401.9,125.6L394.9,124.6L394.1,125.1L390.6,124.6L387.4,125.1L388.1,125.6L387.9,125.9L384.9,125.6L384.4,126.4L382.4,126.4L381.6,125.9L377.6,126.4L378.9,127.9L381.9,129.4L384.1,130.1L383.1,130.6L386.4,131.9L388.4,131.9L388.6,130.6L390.1,129.9L390.9,128.4L394.1,127.6L391.6,127.1L391.4,126.9L391.6,126.6L398.1,126.9L400.1,126.6ZM389.4,126.4L391.1,126.1L391.6,126.6L390.6,126.9ZM388.4,126.1L388.6,125.9L389.1,126.1L388.9,126.4ZM387.9,125.9L388.1,125.6L388.6,125.9L388.4,126.1Z"/>
<path fill="#38aaba" d="M640.4,183.4L642.1,184.6L641.4,185.9L644.6,189.6L647.9,192.1L650.1,195.1L650.9,196.9L653.6,200.1L654.6,202.1L656.9,204.4L657.1,202.6L659.4,204.1L658.4,202.4L654.6,199.9L652.9,196.1L653.1,195.9L656.4,196.6L648.4,190.1L645.4,186.6L640.9,183.1ZM447.4,148.1L446.1,147.1L445.4,147.9L443.9,147.6L444.1,148.6L446.4,149.1ZM657.1,143.6L658.6,144.4L660.4,144.4L657.6,142.9ZM70.1,143.4L68.9,142.6L67.4,142.6L64.6,144.4L68.9,143.9ZM586.4,138.9L586.9,139.1L592.9,139.1L592.1,138.6L588.9,137.9L586.9,138.1ZM589.9,134.4L591.4,135.4L597.6,136.1L598.1,135.4ZM574.6,133.6L576.6,135.1L580.9,136.4L582.9,135.9L588.9,135.9L587.6,134.4L578.1,133.1L575.9,133.1ZM467.6,132.4L466.4,131.6L463.1,131.9L461.4,132.6L456.1,132.9L449.4,135.4L450.4,136.4L447.6,138.1L448.4,138.1L449.1,138.6L447.1,140.1L447.6,141.4L446.4,141.9L447.1,142.9L450.4,143.6L451.4,144.4L457.4,144.9L457.9,144.6L453.6,142.9L452.4,141.1L453.6,139.4L454.6,137.1L458.4,134.9L466.4,133.1ZM510.6,127.1L511.1,129.6L518.6,128.9L517.1,127.9L512.1,126.9ZM435.9,124.6L434.1,124.1L433.1,124.1L431.9,124.9L431.4,124.4L426.6,124.6L429.4,124.9L429.6,125.1L429.4,125.4L430.9,125.9L432.9,125.1L434.6,125.1ZM493.4,125.1L496.1,125.6L498.4,126.9L501.4,127.6L505.6,128.1L509.6,127.9L507.1,125.9L500.1,123.9L497.6,123.6L495.4,124.1Z"/>
<path fill="#4c6a9c" d="M658.6,235.4L656.6,234.9L656.1,235.9L654.9,235.6L654.4,236.9L654.9,238.4L656.6,239.1L656.6,237.6L657.4,236.9L658.6,237.9L659.4,236.4ZM663.1,216.4L661.4,216.9L661.4,218.4L663.4,221.4L663.9,224.6L661.4,228.4L659.1,227.1L659.1,231.4L658.9,231.6L656.1,231.1L652.6,231.9L651.9,233.6L650.1,235.1L650.6,235.9L648.6,237.9L649.6,239.4L651.4,240.4L651.9,242.6L653.4,243.6L654.4,242.6L654.1,238.6L653.1,237.1L651.9,236.4L652.4,235.9L653.4,235.9L655.4,234.6L658.9,234.1L659.9,235.9L661.9,237.1L663.6,234.1L667.6,233.9L669.6,232.6L669.9,230.9L668.9,229.6L668.6,227.4L667.1,224.9L667.9,222.1L666.9,220.1ZM657.4,205.6L658.1,207.9L659.6,210.6L659.4,211.1L657.6,211.4L658.4,213.9L659.9,215.9L662.4,215.9L661.6,213.4L661.9,212.9L666.1,214.6L666.1,212.4L666.6,211.9L668.9,211.4L666.4,208.6L665.6,209.6L664.4,209.4L660.6,207.6Z"/>
<path fill="#4c6a9c" d="M615.4,272.4L613.9,272.4L611.9,273.1L610.9,274.1L611.1,276.4L613.1,277.4L614.9,276.4L616.1,273.4Z"/>
<path fill="#e56e5a" d="M547.9,299.4L547.1,304.4L547.6,307.4L548.6,309.4L549.1,309.6L551.9,308.1L552.1,305.1L550.6,302.1Z"/>
<path fill="#38aaba" d="M652.9,299.6L653.1,300.9L652.9,301.6L651.4,301.6L651.1,302.6L649.6,303.6L649.1,303.4L648.6,302.4L647.1,303.6L645.9,304.1L645.1,306.4L645.6,307.1L647.4,305.6L648.4,305.6L649.1,304.6L650.6,305.9L649.9,307.1L650.6,309.1L653.6,310.6L654.1,309.1L653.4,307.4L654.4,306.4L655.4,308.6L655.9,305.9L654.9,300.9ZM638.6,295.4L637.6,298.4L634.6,301.6L633.9,303.1L637.1,300.4L637.6,299.1L639.4,297.4ZM644.1,293.9L644.6,294.9L644.6,297.6L645.9,297.1L646.6,296.4L646.9,296.6L646.6,298.1L645.9,299.6L647.4,301.4L648.1,300.6L649.4,298.1L649.4,295.6L648.4,297.1L648.1,296.4L647.4,296.6L646.6,296.4L647.1,295.9L646.9,294.6L645.6,294.6ZM647.9,297.4L648.1,297.1L648.4,297.4L648.1,297.6ZM649.4,292.1L651.1,294.1L650.9,295.1L650.4,294.9L649.9,295.1L650.4,296.6L651.1,296.9L651.4,298.6L652.4,297.9L651.4,295.6L651.6,295.4L653.1,296.1L653.4,295.9L652.6,293.6L651.6,292.1ZM639.9,289.9L642.6,293.1L642.9,290.9L641.9,289.9ZM638.9,276.4L638.6,277.6L638.9,282.6L638.6,282.9L637.9,282.1L638.4,284.9L638.9,285.9L640.1,287.4L640.4,286.6L641.1,286.9L640.6,287.6L640.9,288.9L641.9,289.4L643.9,288.9L645.4,290.6L645.9,289.6L648.9,292.1L649.1,291.1L648.1,290.4L647.9,288.6L645.4,287.4L643.9,287.9L642.4,286.4L642.1,283.4L643.4,282.4L643.6,280.1L642.6,278.4L642.4,276.6L641.6,277.4L640.4,276.6Z"/>
<path fill="#fdb462" d="M637.9,350.4L640.9,352.1L641.9,352.1L642.1,351.6L641.1,350.4L640.1,349.9ZM647.4,346.6L644.4,347.6L643.6,347.6L642.1,346.9L640.4,347.4L640.4,348.4L642.1,348.6L645.1,348.4L646.9,347.9ZM638.4,348.1L637.9,347.1L636.6,347.1L635.6,346.6L635.1,347.4L633.9,347.4L632.9,348.9L634.4,349.1L635.4,348.6ZM606.9,343.4L608.6,343.4L609.4,344.6L613.1,345.6L615.1,345.4L618.6,346.6L622.4,347.4L625.6,347.1L627.9,348.4L630.6,347.4L627.9,345.6L624.4,345.1L623.6,343.6L619.6,342.4L618.6,343.4L614.6,343.1L614.1,342.1L611.4,340.9L608.6,340.9ZM674.6,339.6L673.6,341.1L673.9,343.4L675.1,341.6L675.1,340.4ZM655.1,333.6L655.6,334.6L656.9,335.1L658.1,334.4L657.6,333.4ZM659.6,333.9L660.6,334.4L663.6,334.1L666.4,335.4L665.6,333.4L663.4,332.6L660.4,332.6ZM653.1,320.9L650.9,322.9L645.1,322.6L643.6,321.9L641.6,323.6L639.9,328.6L639.6,330.9L638.4,332.6L639.1,334.4L640.1,334.6L640.4,337.1L639.6,339.1L639.9,339.6L640.6,340.1L642.1,339.9L642.1,333.1L643.1,332.4L643.6,332.6L643.4,334.6L644.9,336.4L644.6,337.4L645.1,337.9L646.6,337.1L647.1,337.4L646.4,338.9L646.6,339.6L647.1,340.1L648.1,339.6L648.6,338.4L648.4,337.1L646.6,334.6L647.1,333.6L645.1,330.6L645.1,330.1L647.1,329.1L648.1,327.6L649.1,328.1L649.4,326.9L644.9,327.9L643.6,328.9L641.6,326.6L641.9,324.9L643.6,324.1L648.4,324.1L649.6,324.6L651.4,324.4L652.1,323.9L653.6,321.4ZM646.9,337.1L647.1,336.9L647.4,337.1L647.1,337.4ZM659.9,319.6L659.1,320.4L658.6,323.1L659.4,325.9L660.1,327.4L660.6,327.6L660.9,327.4L660.1,326.1L660.1,325.1L660.6,324.4L661.6,324.6L661.6,321.9L661.4,321.1L660.1,320.6ZM583.6,310.9L583.9,312.1L585.6,314.4L588.6,316.9L589.4,318.6L591.6,320.4L592.9,322.9L593.4,324.9L595.4,326.9L597.9,332.4L599.9,334.6L600.6,336.4L603.4,338.1L605.4,340.6L608.1,340.6L608.4,336.1L609.1,333.4L607.9,331.6L606.1,331.1L605.4,329.9L605.1,328.1L604.4,328.1L602.9,327.1L603.9,324.9L601.9,323.6L601.1,321.9L598.9,319.6L596.4,319.6L594.6,317.4L590.4,313.4L588.9,311.4Z"/>
<path fill="#fdb462" d="M721.6,338.4L721.1,338.9L721.6,341.1L722.1,342.1L723.6,343.4L724.1,343.1L724.4,342.4L723.1,341.4ZM716.4,336.6L715.9,336.1L714.4,336.1L714.6,337.9L713.6,338.4L712.6,339.6L711.4,339.9L711.1,338.4L710.4,339.6L709.6,339.9L706.9,339.6L706.6,340.4L709.6,341.9L711.1,341.9L713.6,340.6L714.1,339.9L715.4,339.6L716.1,338.1ZM712.6,332.4L714.4,333.1L716.6,335.1L717.4,337.9L718.1,337.1L717.9,335.6L715.1,332.9L713.4,331.9Z"/>
<path fill="#38aaba" d="M735.9,352.1L736.4,353.6L738.1,353.6L737.4,352.6ZM732.1,350.6L733.6,351.4L734.9,351.1L733.9,349.9ZM734.6,347.1L736.1,349.1L736.4,350.9L736.9,350.1L735.4,347.1ZM726.4,346.6L726.9,347.9L728.4,347.6L727.9,346.4ZM729.4,344.6L730.4,345.9L733.1,347.6L729.6,344.4ZM725.6,342.6L726.4,344.1L727.9,344.6Z"/>
<path fill="#fdb462" d="M749.9,374.4L749.4,375.1L750.1,375.1ZM748.1,371.4L748.4,372.4L749.1,371.9ZM746.9,367.1L746.6,367.6L747.1,368.9L748.1,368.6ZM746.4,363.6L745.9,365.9L746.1,366.4L747.1,366.6L747.1,364.6Z"/>
<path fill="#fdb462" d="M768.9,371.9L768.9,373.1L770.9,373.4L771.6,373.1L772.4,371.6L771.6,370.9L771.1,371.4L770.1,370.9ZM776.1,367.6L774.9,368.4L773.9,368.4L772.9,368.9L772.6,370.1L775.9,368.9Z"/>
<path fill="#4c6a9c" d="M678.9,432.9L677.4,432.6L674.4,433.4L673.1,432.6L671.6,432.4L670.6,433.6L670.4,436.1L669.6,437.4L669.4,439.6L671.1,439.9L673.1,438.4L673.6,438.4L673.9,438.9L677.1,435.6ZM660.9,419.6L662.4,420.4L664.1,419.6L663.4,418.9L661.4,418.9ZM666.1,354.6L663.9,354.9L663.9,356.1L664.9,356.6L666.4,355.9ZM692.1,353.4L691.1,354.4L691.1,355.1L689.6,357.9L689.9,358.9L688.9,360.9L688.6,364.9L687.6,366.6L687.4,367.9L685.9,370.6L683.9,371.9L682.4,371.1L681.1,369.6L679.9,369.4L678.1,367.4L676.1,366.4L674.4,364.6L674.4,363.9L675.6,362.4L676.1,360.6L677.9,359.1L678.6,357.6L677.9,356.4L677.1,356.9L676.4,356.6L674.9,357.4L673.6,356.6L673.1,356.9L671.6,356.6L669.9,355.1L668.1,354.6L667.1,354.9L668.9,355.9L668.6,356.9L668.1,357.4L667.1,357.6L665.6,357.4L664.1,358.1L662.9,359.6L663.1,360.4L660.9,362.6L660.6,364.6L658.1,364.4L655.4,361.6L653.1,362.4L652.9,362.9L652.1,362.6L648.6,366.1L647.9,367.9L647.1,367.6L646.1,368.9L646.6,369.9L646.4,370.4L645.9,370.6L645.1,368.4L643.1,370.6L642.4,373.1L640.6,374.6L640.1,375.9L639.4,376.6L636.4,377.9L634.6,377.6L633.6,378.6L632.4,378.9L630.6,379.9L628.6,379.6L627.1,380.4L625.4,381.9L623.4,382.6L622.6,383.6L622.4,382.6L621.1,384.4L621.1,385.9L619.4,389.1L619.6,391.4L620.4,392.9L620.4,393.6L619.9,393.9L618.9,392.6L618.9,394.4L618.6,394.6L618.1,393.9L618.4,395.4L619.1,396.9L618.9,399.6L619.4,400.4L619.6,403.1L619.1,404.1L619.4,409.1L617.9,412.9L617.4,413.4L616.1,413.6L615.4,415.4L616.1,415.6L618.1,417.4L621.1,417.6L623.9,415.9L624.4,416.1L626.4,414.6L634.6,414.4L636.1,413.1L636.9,411.9L639.4,411.4L641.6,410.1L646.9,410.1L650.1,408.4L654.1,408.1L655.9,409.4L657.4,409.4L659.6,411.1L658.9,411.6L659.6,412.6L660.1,414.4L659.4,416.1L660.6,417.1L662.4,414.9L664.4,414.1L666.4,412.4L666.9,412.6L666.4,413.9L662.1,418.1L664.4,417.6L665.9,415.9L666.1,416.1L665.9,417.6L664.4,418.9L667.4,419.6L666.1,423.9L666.9,425.4L668.4,426.1L669.9,426.1L672.1,427.4L674.4,425.6L675.9,425.1L676.1,425.4L675.4,426.4L677.6,427.9L683.4,424.9L686.4,424.6L687.9,423.9L688.1,422.9L690.6,419.6L693.1,417.4L693.9,416.1L696.4,413.9L697.9,411.9L699.6,411.1L702.1,408.4L706.6,400.6L707.1,399.4L706.9,396.6L708.1,394.1L708.1,391.9L707.1,389.9L704.9,386.9L705.4,384.1L704.6,384.6L703.9,383.4L703.4,383.9L702.9,383.6L702.6,381.1L701.9,379.9L702.1,378.9L699.4,376.4L697.4,375.1L697.1,373.1L697.6,372.1L697.4,369.6L696.9,369.1L696.6,365.6L697.1,364.6L695.6,362.6L694.4,363.4L693.6,362.9L693.4,361.9L693.6,358.9L693.1,357.9L693.1,356.6L692.6,356.1L692.6,354.4ZM622.1,383.6L622.4,383.4L622.6,383.9L622.4,384.1Z"/>
<path fill="#e56e5a" d="M733.4,432.9L731.4,433.9L731.1,433.4L731.9,431.9L729.4,432.9L727.9,434.6L726.6,435.1L724.1,437.4L717.1,440.9L715.1,441.1L707.9,445.4L707.4,446.6L709.4,446.9L709.9,447.6L712.1,447.6L716.1,445.9L721.4,441.6L723.6,440.6L725.6,440.6L726.1,439.1L732.1,435.4L733.4,434.1ZM742.6,415.9L741.6,416.1L741.4,418.4L742.1,421.1L741.6,423.6L740.9,425.1L738.9,427.4L736.6,428.4L735.9,429.1L737.4,430.4L737.4,430.9L736.6,432.1L734.1,433.9L734.9,434.4L734.6,434.9L738.4,433.1L741.9,430.4L742.9,428.9L743.9,428.4L745.4,428.4L749.4,424.4L748.4,424.1L746.6,425.1L745.9,425.1L743.9,424.1L744.9,422.1L744.4,421.4L743.4,422.6L743.1,422.4L743.4,420.1L744.1,418.1L742.9,417.4Z"/>
<path fill="#38aaba" d="M395.9,224.6L393.1,225.1L389.6,224.9L389.4,226.1L395.4,228.9L395.6,227.9L395.4,226.1ZM382.1,216.9L381.1,217.6L379.9,217.4L380.4,218.6L380.6,222.1L381.4,222.9L382.1,221.9L383.1,222.1L383.4,218.6Z"/>
<path fill="#38aaba" d="M382.1,212.1L380.6,213.6L381.1,215.9L382.1,216.4L382.6,214.6Z"/>
<path fill="#4c6a9c" d="M413.9,232.4L415.9,232.6L416.6,233.4L419.9,233.1L419.9,232.4L419.1,232.6L418.9,232.1L417.9,231.9L415.6,232.1L414.1,231.1Z"/>
<path fill="#ffffb3" d="M438.1,231.4L436.4,232.1L434.6,232.1L433.1,233.1L433.6,233.9L435.1,234.1L436.9,233.1L436.6,232.4Z"/>
<path fill="#4c6a9c" d="M383.4,179.6L383.6,180.4L385.9,182.1L386.9,180.1L386.4,179.1L385.9,178.9Z"/>
<path fill="#fdb462" d="M636.4,314.6L634.9,314.1L631.9,314.1L631.1,316.9L630.1,318.4L629.1,321.4L627.4,322.4L624.4,321.6L623.6,321.9L622.4,323.1L620.6,322.9L619.4,323.4L617.6,321.6L617.1,320.1L616.1,321.6L615.9,325.1L616.1,326.6L617.1,328.6L618.4,329.4L618.6,332.9L620.4,333.4L622.1,333.1L622.9,334.4L625.6,333.4L626.9,334.4L628.4,334.4L629.4,336.1L631.4,335.1L631.9,335.1L632.4,335.9L633.4,332.1L633.4,329.1L635.6,327.4L635.6,324.6L636.6,323.1L639.1,322.9L636.6,320.4Z"/>
<path fill="#4c6a9c" d="M639.1,310.9L636.1,309.6L634.1,306.9L633.1,307.1L632.1,309.1L630.6,310.6L630.6,313.9L630.4,314.1L629.4,314.1L628.9,314.9L627.4,313.6L625.1,317.1L623.1,317.4L621.4,318.1L621.1,319.6L620.4,320.6L619.1,320.9L617.4,319.9L617.6,321.1L619.4,323.1L620.6,322.6L622.4,322.9L623.6,321.6L624.4,321.4L627.4,322.1L628.9,321.4L629.9,318.4L630.9,316.9L631.4,314.4L631.9,313.9L634.9,313.9L636.4,314.4L637.9,313.4L637.4,312.4L637.6,312.1L639.1,312.1Z"/>
<path fill="#ffffb3" d="M630.4,310.9L627.6,313.4L628.9,314.6L629.4,313.9L630.4,313.9Z"/>
<path fill="#fdb462" d="M665.9,327.6L666.9,328.9L668.9,329.4L669.9,331.1L673.1,331.1L673.4,331.4L673.1,331.9L671.6,331.6L669.1,332.6L670.9,333.9L670.9,335.4L671.4,336.1L672.4,335.9L673.1,334.6L675.9,336.6L678.4,337.1L682.6,339.4L683.6,341.4L684.1,344.4L682.4,345.4L681.4,347.4L684.4,347.4L684.9,346.6L687.4,347.1L688.9,348.9L689.6,341.9L689.9,332.1L687.6,331.6L684.4,329.6L681.9,329.6L679.6,331.1L677.1,334.1L674.9,332.6L674.1,327.4L670.4,326.1L669.1,327.1Z"/>
<path fill="#fdb462" d="M690.1,332.1L689.9,341.9L689.1,349.1L691.9,349.4L692.9,349.9L694.6,348.9L694.6,347.1L695.1,346.6L698.4,345.4L700.6,346.1L701.4,346.9L702.6,349.6L704.9,351.9L709.1,352.6L709.6,353.4L711.1,353.1L711.4,352.4L709.1,351.1L709.9,350.6L708.1,350.1L708.4,349.1L707.1,349.1L706.6,348.6L705.6,346.4L703.9,344.6L703.4,343.1L705.6,342.6L705.1,341.1L701.9,339.9L700.4,337.1L698.4,335.4L693.9,333.9Z"/>
<path fill="#fdb462" d="M652.1,348.4L650.6,349.1L650.9,349.4L650.6,350.4L649.6,350.4L649.4,349.9L648.1,352.1L648.9,352.4L650.4,351.9L651.9,350.1Z"/>
<path fill="#38aaba" d="M650.6,349.4L649.6,349.6L649.6,350.1L650.6,350.1ZM657.6,347.4L656.6,346.9L655.9,347.4L654.1,347.4L652.9,347.9L652.1,348.6L652.1,349.9L655.6,348.6Z"/>
<circle cx="220.6" cy="278.8" r="0.44" fill="#e56e5a"/>
<circle cx="220.4" cy="280.2" r="0.48" fill="#e56e5a"/>
<circle cx="221.7" cy="288.5" r="0.52" fill="#e56e5a"/>
<circle cx="224.9" cy="290.5" r="0.52" fill="#e56e5a"/>
<circle cx="221.1" cy="290.2" r="0.48" fill="#e56e5a"/>
<circle cx="219.8" cy="293.2" r="0.48" fill="#e56e5a"/>
<circle cx="491.1" cy="337.3" r="0.44" fill="#e56e5a"/>
<circle cx="462.4" cy="355.8" r="0.48" fill="#e56e5a"/>
<circle cx="463.5" cy="356.7" r="0.40" fill="#e56e5a"/>
<circle cx="464.9" cy="357.2" r="0.44" fill="#e56e5a"/>
<circle cx="493.7" cy="378.4" r="0.68" fill="#e56e5a"/>
<circle cx="306.5" cy="281.4" r="0.40" fill="#e56e5a"/>
<circle cx="309.0" cy="282.7" r="0.40" fill="#e56e5a"/>
<circle cx="308.0" cy="285.5" r="0.52" fill="#e56e5a"/>
<circle cx="306.1" cy="285.9" r="0.40" fill="#e56e5a"/>
<circle cx="309.7" cy="281.1" r="0.36" fill="#e56e5a"/>
<circle cx="377.6" cy="324.4" r="0.52" fill="#fdb462"/>
<circle cx="379.5" cy="320.9" r="0.32" fill="#fdb462"/>
</g><g stroke="#c4c4c4" stroke-width="0.4" stroke-linejoin="round" fill="url(#hatch)">
<path d="M342.9,252.4L332.9,252.4L331.6,254.9L330.1,255.9L329.1,257.1L328.9,259.1L328.1,260.6L326.4,262.4L325.4,264.4L325.4,265.6L323.9,267.6L323.6,269.6L324.1,268.9L332.6,268.9L332.4,267.1L332.6,264.4L333.1,263.6L335.1,263.4L335.1,256.9L335.4,256.6L342.6,256.9Z"/>
<path d="M196.6,294.6L194.1,297.1L193.6,299.6L192.9,300.9L194.1,301.4L194.4,302.6L194.9,303.1L194.6,305.4L195.4,306.6L197.1,306.4L199.9,306.6L201.4,308.9L202.1,308.6L204.1,308.9L205.4,308.4L206.4,309.1L205.1,312.4L205.4,314.6L206.4,316.4L205.1,317.9L205.9,318.4L206.6,319.9L207.4,322.6L208.1,323.4L209.9,323.1L210.4,322.4L213.1,321.4L213.4,320.4L215.1,319.4L214.9,318.9L213.4,318.6L212.9,318.1L212.6,317.1L212.9,315.1L212.1,314.6L212.4,314.4L214.1,314.6L215.9,315.4L216.6,314.6L218.4,314.4L221.1,313.1L221.6,312.1L219.6,309.6L220.4,308.9L220.4,307.6L222.4,306.6L221.6,305.1L223.6,302.9L222.1,302.6L221.6,301.6L221.6,300.6L219.9,299.1L218.1,299.1L217.4,298.1L217.9,297.6L219.4,297.1L213.6,297.1L213.6,297.9L212.4,298.6L210.4,298.4L209.1,297.1L204.9,297.4L204.6,296.6L203.1,295.1L201.9,295.1L201.4,294.6L200.9,293.1L199.9,294.1L200.1,295.1L199.6,295.6L197.4,296.4L197.4,298.6L197.9,299.6L197.6,300.6L196.6,301.4L195.6,299.4L196.9,296.9L196.1,295.1Z"/>
<path d="M237.1,310.1L235.9,312.4L236.1,314.4L236.9,316.1L236.4,318.1L235.6,319.1L236.6,319.6L237.6,318.9L238.1,319.9L239.4,319.6L240.1,318.6L242.4,313.9L242.1,313.1L239.6,310.9Z"/>
<path d="M211.1,350.9L208.1,351.4L206.6,352.6L204.9,353.4L203.9,354.4L201.6,354.1L203.9,358.4L203.4,359.1L203.6,363.4L202.9,364.6L203.4,365.6L202.9,366.4L204.1,368.9L202.9,371.4L204.1,372.9L204.9,375.1L206.1,376.4L205.6,379.1L208.6,385.1L209.4,384.9L210.1,385.1L211.6,382.4L214.6,383.1L215.9,384.6L216.9,382.9L219.4,382.9L219.6,383.1L220.1,378.9L220.9,376.9L221.9,376.4L224.6,375.9L227.1,375.9L229.4,377.1L229.9,378.1L230.1,377.9L229.9,376.1L230.4,375.4L230.6,373.9L230.1,371.4L228.4,370.1L228.6,368.1L224.4,368.1L223.9,367.6L223.1,365.1L223.6,364.9L223.6,363.9L223.1,363.1L222.9,361.6L221.6,360.6L220.1,360.6L218.6,359.6L217.9,359.6L216.4,358.4L213.9,358.1L211.1,355.6L211.4,354.6Z"/>
<path d="M191.9,276.6L193.1,277.9L194.1,277.4L197.9,277.6L197.9,276.9L197.4,276.1L198.4,275.1L198.4,273.4L197.1,272.9L195.1,272.9L194.6,273.6L195.4,273.6L196.1,274.1L195.9,274.9L196.9,276.1L196.1,276.6L192.1,276.1Z"/>
<path d="M208.4,277.9L211.6,277.9L212.1,277.1L211.9,276.6L211.1,276.4L208.9,276.4L208.4,276.9Z"/>
<path d="M345.1,123.6L344.4,122.9L342.4,122.6L335.4,122.9L330.9,123.6L330.6,123.4L331.4,122.9L330.4,122.1L330.6,121.9L333.6,121.1L326.6,120.1L309.6,119.9L307.9,120.6L302.4,120.4L297.9,121.4L296.9,122.4L295.1,122.4L292.1,121.6L288.6,122.6L287.4,122.1L280.6,122.1L275.6,122.6L273.1,123.6L271.6,123.6L265.9,124.9L264.4,125.6L267.1,126.1L267.4,126.4L266.6,126.9L261.1,127.9L253.9,128.6L253.1,129.4L255.4,130.1L260.4,130.6L254.1,131.4L256.9,133.4L266.4,133.1L268.4,133.4L271.1,134.4L270.9,135.4L272.4,136.1L272.9,138.6L273.9,140.6L270.9,142.6L271.9,143.1L273.9,142.9L276.1,144.4L275.9,144.6L272.4,144.4L271.1,145.6L270.6,146.9L272.1,147.6L274.4,147.4L276.4,146.6L277.1,146.9L275.6,148.6L272.1,149.9L269.4,152.4L270.1,153.1L268.6,154.9L270.1,157.1L269.6,159.9L271.9,163.6L272.1,165.9L273.6,167.1L277.1,167.1L279.4,169.1L281.9,169.1L285.1,164.6L284.9,162.9L288.1,161.1L289.9,159.4L290.4,157.9L292.4,156.4L298.1,155.4L302.6,153.9L306.1,151.1L307.9,150.4L310.9,150.4L315.4,149.6L325.1,145.9L319.4,145.6L319.1,145.4L320.6,144.6L320.4,143.9L320.6,143.4L323.4,145.1L326.4,144.6L325.9,142.6L322.6,141.1L323.6,140.6L326.1,141.4L326.4,140.4L325.1,139.4L325.4,139.1L327.4,139.1L329.1,138.6L329.9,137.9L328.9,137.4L329.1,137.1L331.9,136.9L330.4,135.4L331.1,134.9L331.9,134.9L331.9,133.4L329.9,132.1L331.4,131.6L334.4,131.4L332.9,130.1L333.4,128.1L336.9,125.6L336.1,125.6L335.9,125.4L336.1,125.1L338.6,125.1L341.9,124.1ZM324.6,122.1L324.9,121.9L329.6,121.9L329.9,122.1L328.1,122.6ZM319.9,122.1L320.1,121.9L321.4,122.1L321.1,122.4Z"/>
<path d="M441.4,237.6L439.9,238.1L439.4,239.9L439.4,241.4L438.6,242.9L440.6,247.6L441.4,241.9L441.1,239.6L441.6,238.6Z"/>
<path d="M406.1,211.4L404.9,213.1L406.4,215.1L406.9,214.4L408.1,214.1L408.4,212.9Z"/>
<path d="M637.1,258.6L635.6,261.1L635.1,263.6L635.6,265.1L637.4,267.4L638.1,263.9L638.4,259.4Z"/>
<path d="M737.1,378.1L737.1,379.1L738.6,381.6L741.6,384.1L742.6,383.6L742.1,382.6L740.1,380.1L738.1,378.1Z"/>
</g></svg>
<div class="sw" style="left:210.40px;top:496.90px;background:#e56e5a"></div>
<div class="t leg" style="left:229.80px;top:494.20px;font-size:14.15px;line-height:18.00px;">No monitoring system</div>
<div class="sw" style="left:380.40px;top:496.90px;background:#fdb462"></div>
<div class="t leg" style="left:399.80px;top:494.20px;font-size:14.15px;line-height:18.00px;">National monitoring of sales and use</div>
<div class="sw" style="left:44.00px;top:515.30px;background:#ffffb3"></div>
<div class="t leg" style="left:63.40px;top:512.60px;font-size:14.15px;line-height:18.00px;word-spacing:0.5px;">National monitoring of sales and use within regions of the country</div>
<div class="sw" style="left:493.00px;top:515.30px;background:#38aaba"></div>
<div class="t leg" style="left:512.40px;top:512.60px;font-size:14.15px;line-height:18.00px;">Monitoring of a sample of healthcare settings</div>
<div class="sw" style="left:253.60px;top:533.70px;background:#4c6a9c"></div>
<div class="t leg" style="left:273.00px;top:531.00px;font-size:14.15px;line-height:18.00px;">Regular data collection and reporting</div>
<svg style="left:520.00px;top:533.70px" width="14" height="14" viewBox="0 0 14 14"><rect x="0.3" y="0.3" width="13.2" height="13.2" fill="url(#hatch)" stroke="#b5b5b5" stroke-width="0.6"/></svg>
<div class="t leg" style="left:539.40px;top:531.00px;font-size:14.15px;line-height:18.00px;">No data</div>
<div class="t foot" style="left:16.60px;top:568.74px;font-size:12.00px;line-height:16.00px;"><b>Data source:</b> <span style="font-size:12.85px">FAO, UNEP, WHO and WOAH (2024)</span></div>
<div class="t foot" style="right:17px;top:568.50px;font-size:12.7px;line-height:16px">antibiotics | CC BY</div>
</body></html>
